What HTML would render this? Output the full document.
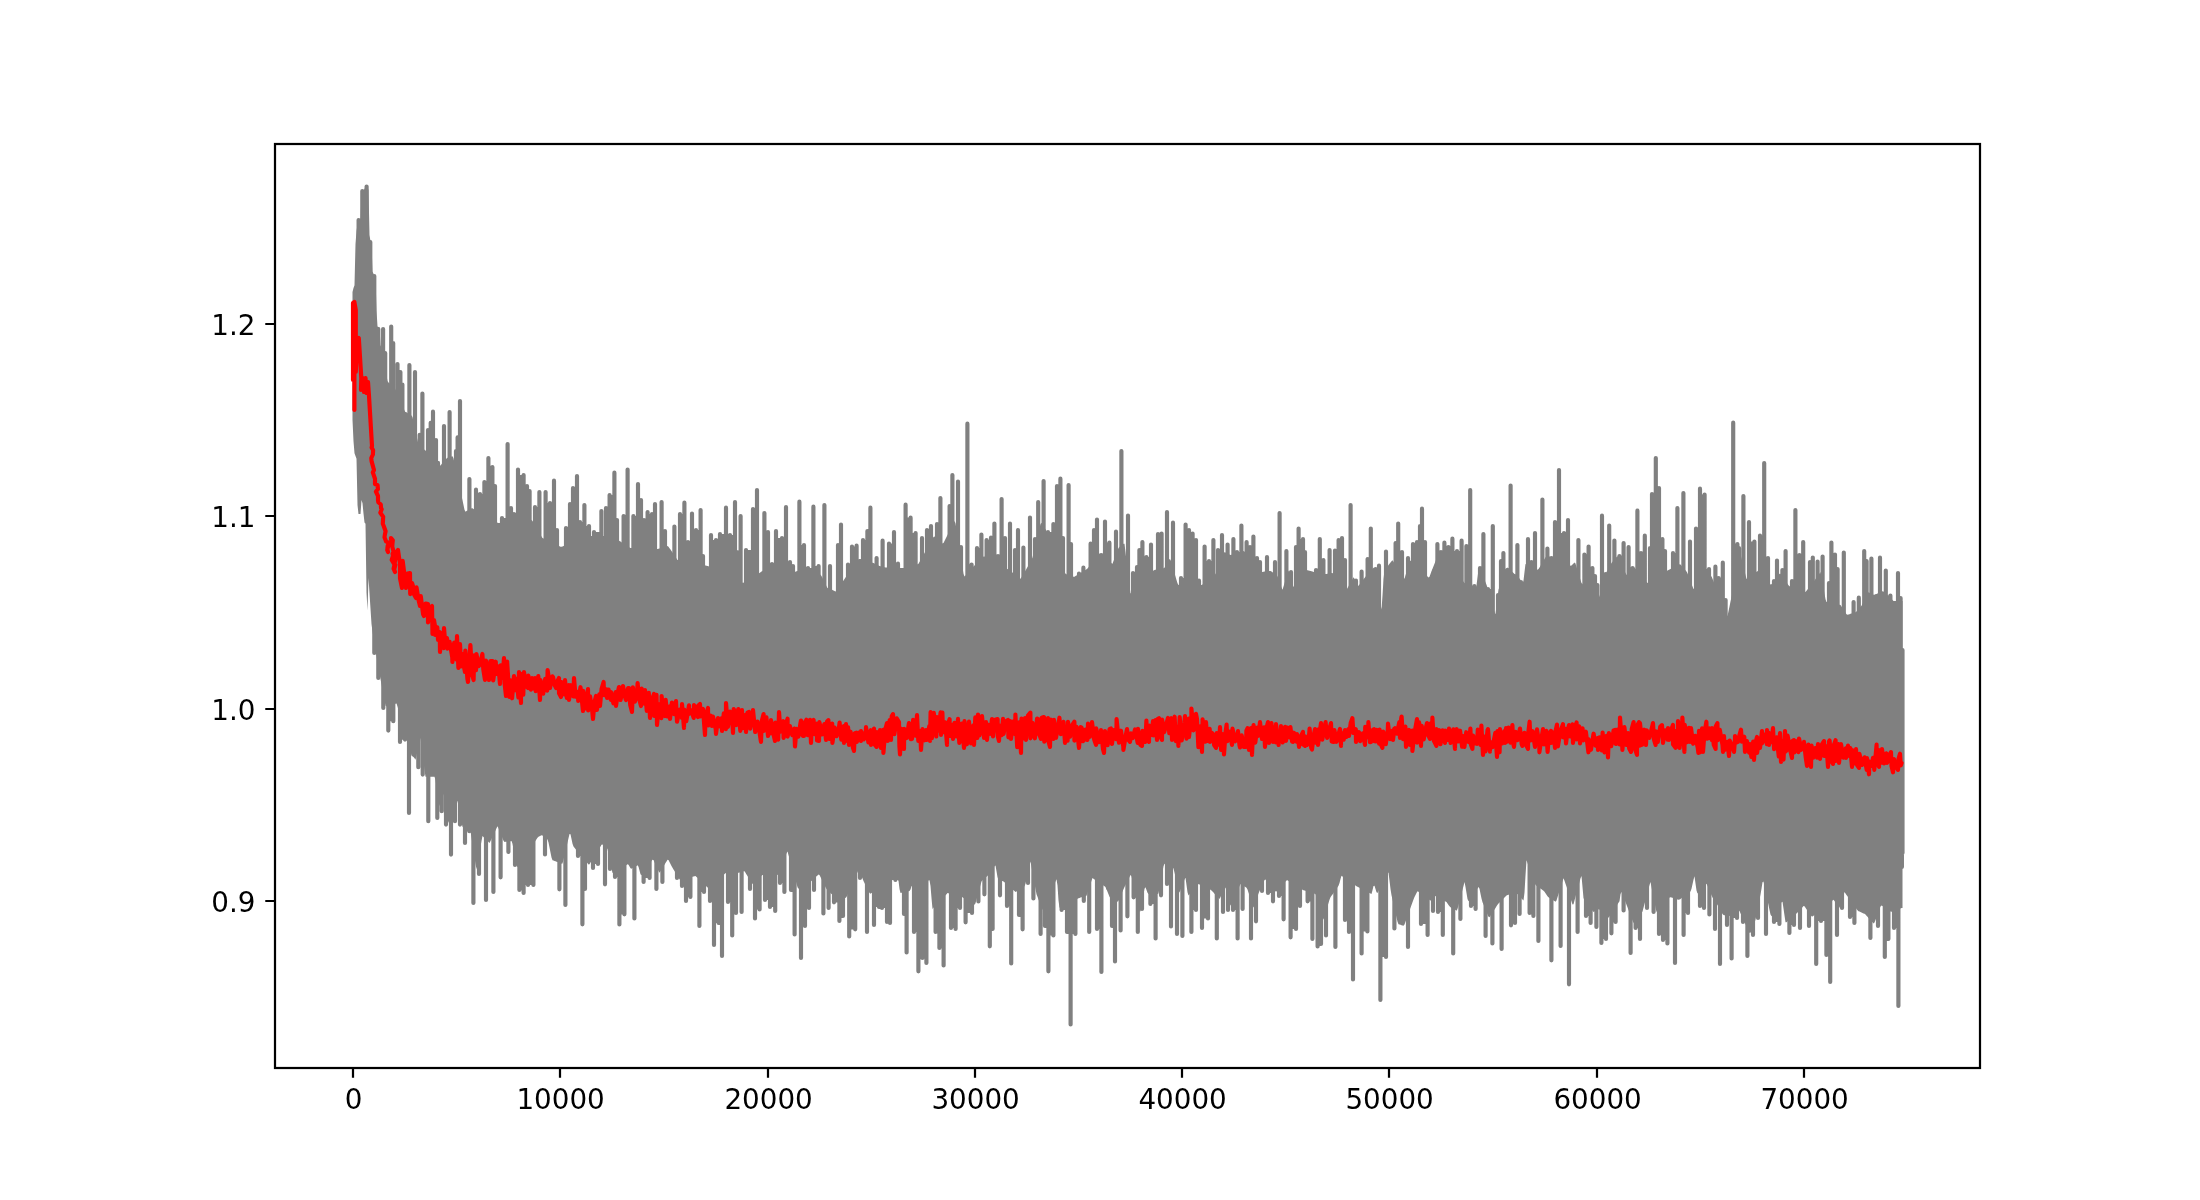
<!DOCTYPE html>
<html><head><meta charset="utf-8"><title>plot</title>
<style>html,body{margin:0;padding:0;background:#fff;overflow:hidden}body{position:relative}body{width:2200px;height:1200px}</style>
</head><body>
<svg width="2200" height="1200" viewBox="0 0 2200 1200" style="display:block">
<rect width="2200" height="1200" fill="#fff"/>
<clipPath id="c"><rect x="275" y="144" width="1705" height="924"/></clipPath>
<g clip-path="url(#c)"><path d="M352.5 292 353.5 288 354.5 285.3 355.5 244 356.5 230.9 357.5 224.4 358.5 218.1 359.5 219.6 360.5 221 361.5 191 362.5 190.6 363.5 190.2 364.5 188.9 365.5 186.8 366.5 184.7 367.5 187.1 368.5 190 369.5 235 370.5 241.2 371.5 243.8 372.5 271.5 373.5 273.8 374.5 275.9 375.5 277.6 376.5 310.3 377.5 326.4 378.5 326.9 379.5 327.4 380.5 345 381.5 348.3 382.5 353.7 383.5 353 384.5 353 385.5 370 386.5 375.5 387.5 380.9 388.5 382.6 389.5 383.4 390.5 384.2 391.5 343 392.5 343 393.5 386.6 394.5 387.4 395.5 389.6 396.5 391.9 397.5 372 398.5 372 399.5 372 400.5 384.5 401.5 384.5 402.5 405.8 403.5 408.1 404.5 410.4 405.5 412.2 406.5 412.7 407.5 413.3 408.5 413.9 409.5 414.4 410.5 415 411.5 415.5 412.5 416.9 413.5 421.5 414.5 426.2 415.5 430.8 416.5 435.4 417.5 440 418.5 444.6 419.5 446.5 420.5 434.7 421.5 434.7 422.5 448.4 423.5 449 424.5 449.7 425.5 450.5 426.5 451.6 427.5 452.7 428.5 430 429.5 430 430.5 430 431.5 422.7 432.5 422.7 433.5 440 434.5 440 435.5 440 436.5 462.3 437.5 462.7 438.5 464.4 439.5 465.5 440.5 465.4 441.5 464.3 442.5 463.1 443.5 462 444.5 460.9 445.5 459.7 446.5 458.6 447.5 457.8 448.5 457.5 449.5 457.2 450.5 456.8 451.5 456.5 452.5 456.2 453.5 458.3 454.5 463 455.5 467.7 456.5 451 457.5 451 458.5 437.3 459.5 437.3 460.5 491 461.5 495.7 462.5 500.3 463.5 505 464.5 509.7 465.5 511.7 466.5 511.1 467.5 510.6 468.5 510 469.5 509.4 470.5 508.9 471.5 508.3 472.5 508.3 473.5 508.9 474.5 509.4 475.5 510 476.5 494 477.5 494 478.5 494 479.5 494 480.5 494 481.5 494 482.5 494 483.5 494 484.5 482 485.5 482 486.5 482 487.5 482 488.5 467 489.5 467 490.5 467 491.5 467 492.5 486 493.5 486 494.5 486 495.5 521.6 496.5 522.1 497.5 522.7 498.5 523 499.5 522.9 500.5 522.8 501.5 522.7 502.5 518 503.5 518 504.5 518 505.5 518 506.5 518 507.5 518 508.5 508 509.5 508 510.5 508 511.5 514 512.5 514 513.5 514 514.5 514 515.5 514 516.5 514 517.5 514 518.5 475 519.5 475 520.5 475 521.5 475 522.5 475 523.5 475 524.5 486 525.5 486 526.5 486 527.5 491 528.5 491 529.5 491 530.5 520.1 531.5 520 532.5 520.9 533.5 522.6 534.5 524.3 535.5 507 536.5 507 537.5 507 538.5 507 539.5 533 540.5 534.7 541.5 536.4 542.5 538 543.5 538.5 544.5 539 545.5 539.5 546.5 503 547.5 503 548.5 503 549.5 503 550.5 503 551.5 503 552.5 503 553.5 503 554.5 530 555.5 530 556.5 530 557.5 545.3 558.5 545.8 559.5 546.3 560.5 546.8 561.5 546.8 562.5 546.5 563.5 546.1 564.5 545.7 565.5 545.4 566.5 528 567.5 528 568.5 528 569.5 528 570.5 504 571.5 504 572.5 504 573.5 488 574.5 488 575.5 488 576.5 488 577.5 522 578.5 522 579.5 522 580.5 522 581.5 522 582.5 522 583.5 522 584.5 526 585.5 526 586.5 526 587.5 526 588.5 526 589.5 536.5 590.5 536.2 591.5 536 592.5 536 593.5 536 594.5 532 595.5 532 596.5 532 597.5 532 598.5 532 599.5 532 600.5 532 601.5 536 602.5 536 603.5 536 604.5 536 605.5 536.3 606.5 508 607.5 508 608.5 508 609.5 508 610.5 495 611.5 495 612.5 495 613.5 495 614.5 520 615.5 520 616.5 520 617.5 539.9 618.5 540.3 619.5 541 620.5 541.6 621.5 542.3 622.5 542.9 623.5 543.5 624.5 516 625.5 516 626.5 516 627.5 516 628.5 546.8 629.5 547.4 630.5 548 631.5 548 632.5 548.1 633.5 516 634.5 516 635.5 516 636.5 516 637.5 516 638.5 500 639.5 500 640.5 500 641.5 520 642.5 520 643.5 520 644.5 520 645.5 520 646.5 520 647.5 520 648.5 514 649.5 514 650.5 514 651.5 514 652.5 514 653.5 514 654.5 514 655.5 548.9 656.5 549 657.5 549 658.5 548.7 659.5 548.5 660.5 548.2 661.5 547.9 662.5 531 663.5 531 664.5 531 665.5 546.7 666.5 546.4 667.5 546.1 668.5 546.7 669.5 548.2 670.5 549.6 671.5 551.1 672.5 552.6 673.5 554 674.5 555.5 675.5 556.9 676.5 558.4 677.5 559.9 678.5 560.2 679.5 560.4 680.5 514 681.5 514 682.5 514 683.5 514 684.5 542 685.5 542 686.5 542 687.5 542 688.5 542 689.5 542 690.5 542 691.5 542 692.5 530 693.5 530 694.5 530 695.5 530 696.5 530 697.5 530 698.5 530 699.5 530 700.5 530 701.5 556 702.5 556 703.5 565.1 704.5 565.3 705.5 565.5 706.5 565.7 707.5 565.9 708.5 566.2 709.5 566.7 710.5 567.2 711.5 540 712.5 540 713.5 540 714.5 540 715.5 540 716.5 540 717.5 540 718.5 540 719.5 540 720.5 534 721.5 534 722.5 534 723.5 534 724.5 534 725.5 534 726.5 535 727.5 535 728.5 535 729.5 535 730.5 535 731.5 535 732.5 535 733.5 535 734.5 535 735.5 552 736.5 552 737.5 552 738.5 552 739.5 552 740.5 552 741.5 582.3 742.5 582.8 743.5 582.7 744.5 582.1 745.5 581.5 746.5 550 747.5 550 748.5 550 749.5 550 750.5 550 751.5 550 752.5 550 753.5 509 754.5 509 755.5 509 756.5 509 757.5 574.1 758.5 573.5 759.5 572.9 760.5 572.3 761.5 571.6 762.5 570.9 763.5 570.1 764.5 532 765.5 532 766.5 532 767.5 532 768.5 564 769.5 564 770.5 564 771.5 564 772.5 563.4 773.5 563.2 774.5 563.6 775.5 564 776.5 538 777.5 538 778.5 538 779.5 538 780.5 538 781.5 538 782.5 538 783.5 538 784.5 538 785.5 538 786.5 562 787.5 562 788.5 562 789.5 562 790.5 566 791.5 566 792.5 566 793.5 571.4 794.5 571.8 795.5 571.8 796.5 571.3 797.5 570.9 798.5 570.4 799.5 545 800.5 545 801.5 545 802.5 545 803.5 545 804.5 567.7 805.5 567.2 806.5 567.3 807.5 567.8 808.5 568 809.5 568 810.5 568 811.5 568 812.5 568 813.5 566 814.5 566 815.5 566 816.5 566 817.5 566 818.5 566 819.5 574.2 820.5 574.7 821.5 576 822.5 578 823.5 580.1 824.5 582.1 825.5 584.1 826.5 586.2 827.5 588 828.5 588.4 829.5 588.8 830.5 589.2 831.5 589.6 832.5 590 833.5 590.5 834.5 590.9 835.5 591.4 836.5 590.9 837.5 589.4 838.5 545 839.5 545 840.5 545 841.5 583.4 842.5 581.9 843.5 580.4 844.5 578.9 845.5 577.5 846.5 576.2 847.5 574.9 848.5 564.4 849.5 564.4 850.5 564.4 851.5 564.4 852.5 546.4 853.5 546.4 854.5 546.4 855.5 546.4 856.5 546.4 857.5 561 858.5 560.2 859.5 559 860.5 559.3 861.5 559.6 862.5 559.9 863.5 540 864.5 540 865.5 540 866.5 540 867.5 531 868.5 531 869.5 531 870.5 562.1 871.5 562.4 872.5 562.7 873.5 563 874.5 563.5 875.5 564 876.5 564.5 877.5 565 878.5 565.5 879.5 566 880.5 566.2 881.5 566.5 882.5 566.8 883.5 567 884.5 567.3 885.5 567.6 886.5 567.6 887.5 567.6 888.5 567.7 889.5 543.6 890.5 543.6 891.5 543.6 892.5 543.6 893.5 543.6 894.5 563.6 895.5 563.6 896.5 563.6 897.5 563.6 898.5 567.9 899.5 568 900.5 568 901.5 568 902.5 568 903.5 568 904.5 567.8 905.5 567.5 906.5 517.6 907.5 517.6 908.5 517.6 909.5 517.6 910.5 517.6 911.5 533 912.5 533 913.5 533 914.5 533 915.5 533 916.5 564.5 917.5 564.2 918.5 563.8 919.5 562 920.5 560.2 921.5 558.5 922.5 556.7 923.5 554.9 924.5 553.1 925.5 551.3 926.5 549.5 927.5 530 928.5 530 929.5 530 930.5 530 931.5 540.5 932.5 538.7 933.5 536.9 934.5 536.4 935.5 537.3 936.5 538.2 937.5 524 938.5 524 939.5 524 940.5 541.8 941.5 542.7 942.5 543.6 943.5 543 944.5 541 945.5 539 946.5 537 947.5 535 948.5 533 949.5 531 950.5 506 951.5 506 952.5 525 953.5 523 954.5 521 955.5 523.2 956.5 529.5 957.5 535.8 958.5 542.2 959.5 547 960.5 547 961.5 561.2 962.5 567.5 963.5 573.8 964.5 576.5 965.5 575.4 966.5 574.2 967.5 564.4 968.5 564.4 969.5 564.4 970.5 564.4 971.5 564.4 972.5 567.6 973.5 566.5 974.5 565.5 975.5 564.5 976.5 563.5 977.5 548 978.5 548 979.5 548 980.5 548 981.5 558.5 982.5 557.5 983.5 556.5 984.5 556.4 985.5 557.1 986.5 557.8 987.5 540 988.5 540 989.5 540 990.5 540 991.5 537.6 992.5 537.6 993.5 537.6 994.5 556 995.5 556 996.5 556 997.5 556 998.5 566.4 999.5 567 1000.5 567.3 1001.5 567.5 1002.5 538 1003.5 538 1004.5 538 1005.5 568.5 1006.5 568.8 1007.5 569.1 1008.5 569.8 1009.5 570.5 1010.5 571.2 1011.5 571.9 1012.5 572.6 1013.5 573.4 1014.5 574.2 1015.5 550 1016.5 550 1017.5 550 1018.5 577.5 1019.5 578.3 1020.5 578.8 1021.5 577.2 1022.5 575.5 1023.5 573.8 1024.5 572.2 1025.5 570.5 1026.5 568.8 1027.5 567.1 1028.5 565.2 1029.5 563.4 1030.5 561.5 1031.5 559.7 1032.5 557.6 1033.5 553.4 1034.5 549.2 1035.5 539 1036.5 539 1037.5 536.7 1038.5 532.5 1039.5 528.3 1040.5 524.1 1041.5 522.8 1042.5 524.4 1043.5 526 1044.5 527.6 1045.5 529.2 1046.5 531.1 1047.5 533.4 1048.5 532 1049.5 532 1050.5 532 1051.5 532 1052.5 532 1053.5 524 1054.5 524 1055.5 524 1056.5 524 1057.5 486 1058.5 486 1059.5 486 1060.5 538 1061.5 538 1062.5 538 1063.5 569.3 1064.5 571.5 1065.5 573.8 1066.5 574.3 1067.5 574.7 1068.5 575 1069.5 544 1070.5 544 1071.5 576.1 1072.5 576.5 1073.5 576.8 1074.5 576.7 1075.5 576.1 1076.5 575.5 1077.5 574.8 1078.5 574.2 1079.5 573.6 1080.5 573 1081.5 572.4 1082.5 571.8 1083.5 571.2 1084.5 570.5 1085.5 569.9 1086.5 569.3 1087.5 568.4 1088.5 567.2 1089.5 565.9 1090.5 564.7 1091.5 543.6 1092.5 543.6 1093.5 543.6 1094.5 530 1095.5 530 1096.5 530 1097.5 556.1 1098.5 554.8 1099.5 553.6 1100.5 553.4 1101.5 554.3 1102.5 555 1103.5 555 1104.5 555 1105.5 542.6 1106.5 542.6 1107.5 542.6 1108.5 542.6 1109.5 561.4 1110.5 562.3 1111.5 563.2 1112.5 563.7 1113.5 561.1 1114.5 558.4 1115.5 555.7 1116.5 553.1 1117.5 550.4 1118.5 547.9 1119.5 547.1 1120.5 546.3 1121.5 545.4 1122.5 544.6 1123.5 543.8 1124.5 543.8 1125.5 552.3 1126.5 560.7 1127.5 569.1 1128.5 577.6 1129.5 586 1130.5 593.5 1131.5 592.5 1132.5 591.5 1133.5 573 1134.5 573 1135.5 573 1136.5 573 1137.5 567 1138.5 567 1139.5 550 1140.5 550 1141.5 550 1142.5 557 1143.5 557 1144.5 557 1145.5 557 1146.5 557 1147.5 557 1148.5 557 1149.5 557 1150.5 557 1151.5 572.5 1152.5 571.5 1153.5 570.5 1154.5 569.9 1155.5 569.7 1156.5 569.5 1157.5 569.3 1158.5 534 1159.5 534 1160.5 534 1161.5 534 1162.5 568.4 1163.5 568.2 1164.5 567.8 1165.5 566 1166.5 564.3 1167.5 562.5 1168.5 560.7 1169.5 558.9 1170.5 559.7 1171.5 563.1 1172.5 566.4 1173.5 569.8 1174.5 573.2 1175.5 576.6 1176.5 579.9 1177.5 583.3 1178.5 585 1179.5 585 1180.5 585 1181.5 578 1182.5 578 1183.5 578 1184.5 578 1185.5 578 1186.5 530 1187.5 530 1188.5 530 1189.5 533.4 1190.5 533.4 1191.5 533.4 1192.5 533.4 1193.5 540 1194.5 540 1195.5 540 1196.5 580.6 1197.5 580.6 1198.5 580.6 1199.5 585 1200.5 585 1201.5 585 1202.5 584.6 1203.5 583.8 1204.5 583 1205.5 561 1206.5 561 1207.5 561 1208.5 561 1209.5 561 1210.5 561 1211.5 561 1212.5 561 1213.5 575.7 1214.5 574.9 1215.5 574.1 1216.5 571.7 1217.5 569.2 1218.5 550 1219.5 550 1220.5 550 1221.5 550 1222.5 556.8 1223.5 554.3 1224.5 552 1225.5 552.5 1226.5 553 1227.5 553.5 1228.5 554 1229.5 554.5 1230.5 555 1231.5 554.7 1232.5 554.4 1233.5 552 1234.5 552 1235.5 552 1236.5 552 1237.5 552 1238.5 552 1239.5 552 1240.5 552 1241.5 551.7 1242.5 551.4 1243.5 551.1 1244.5 551.6 1245.5 552.9 1246.5 554.1 1247.5 547 1248.5 547 1249.5 547 1250.5 547 1251.5 547 1252.5 547 1253.5 558 1254.5 558 1255.5 558 1256.5 558 1257.5 562 1258.5 562 1259.5 562 1260.5 571.4 1261.5 572 1262.5 571.9 1263.5 571.8 1264.5 571.6 1265.5 571.5 1266.5 571.5 1267.5 571.4 1268.5 571.2 1269.5 571.1 1270.5 571 1271.5 571.4 1272.5 572.2 1273.5 573 1274.5 573.7 1275.5 574.5 1276.5 575.3 1277.5 576.3 1278.5 579.1 1279.5 581.9 1280.5 584.7 1281.5 587.5 1282.5 589.7 1283.5 586.5 1284.5 583.2 1285.5 580 1286.5 576.8 1287.5 573.5 1288.5 570.3 1289.5 573.2 1290.5 576.7 1291.5 580.3 1292.5 583.8 1293.5 586.9 1294.5 585.6 1295.5 584.3 1296.5 547 1297.5 547 1298.5 547 1299.5 539 1300.5 539 1301.5 539 1302.5 539 1303.5 552 1304.5 552 1305.5 571.2 1306.5 570 1307.5 570.3 1308.5 570.6 1309.5 570.8 1310.5 571.1 1311.5 571.3 1312.5 571.6 1313.5 571.9 1314.5 572.1 1315.5 572.2 1316.5 570 1317.5 570 1318.5 570 1319.5 570 1320.5 560 1321.5 560 1322.5 560 1323.5 573.5 1324.5 573.7 1325.5 573.9 1326.5 574 1327.5 573.8 1328.5 573.6 1329.5 573.5 1330.5 573.3 1331.5 573.1 1332.5 573.1 1333.5 574.3 1334.5 575.5 1335.5 550.4 1336.5 550.4 1337.5 550.4 1338.5 550.4 1339.5 540 1340.5 540 1341.5 540 1342.5 560 1343.5 560 1344.5 560 1345.5 588.9 1346.5 589.8 1347.5 588 1348.5 586.2 1349.5 584.4 1350.5 582.6 1351.5 580.8 1352.5 579 1353.5 577.2 1354.5 578.7 1355.5 580.6 1356.5 582.4 1357.5 584.3 1358.5 585.9 1359.5 584.5 1360.5 583.2 1361.5 581.9 1362.5 580.5 1363.5 579.2 1364.5 577.9 1365.5 576.7 1366.5 575.6 1367.5 574.4 1368.5 559 1369.5 559 1370.5 559 1371.5 569.9 1372.5 568.7 1373.5 567.6 1374.5 569.8 1375.5 575.5 1376.5 569 1377.5 569 1378.5 569 1379.5 598.1 1380.5 603.8 1381.5 609.4 1382.5 595.4 1383.5 579.1 1384.5 570.3 1385.5 569 1386.5 567.7 1387.5 566.4 1388.5 565.1 1389.5 563.8 1390.5 562.5 1391.5 561.2 1392.5 560.2 1393.5 561.7 1394.5 563.3 1395.5 564.9 1396.5 543 1397.5 543 1398.5 552 1399.5 552 1400.5 552 1401.5 552 1402.5 576 1403.5 577.6 1404.5 578.7 1405.5 575.3 1406.5 571.9 1407.5 568.5 1408.5 565.1 1409.5 561.7 1410.5 560.5 1411.5 561.4 1412.5 562.4 1413.5 544 1414.5 544 1415.5 544 1416.5 544 1417.5 542 1418.5 542 1419.5 542 1420.5 526 1421.5 526 1422.5 542 1423.5 542 1424.5 542 1425.5 574.7 1426.5 575.6 1427.5 576.6 1428.5 577.5 1429.5 576.7 1430.5 574 1431.5 571.3 1432.5 568.8 1433.5 566.2 1434.5 563.8 1435.5 561.2 1436.5 558.8 1437.5 556.2 1438.5 553.8 1439.5 551.2 1440.5 550.7 1441.5 552 1442.5 552 1443.5 552 1444.5 547 1445.5 547 1446.5 547 1447.5 547 1448.5 547 1449.5 547 1450.5 547 1451.5 547 1452.5 551 1453.5 551 1454.5 551 1455.5 551 1456.5 551 1457.5 551 1458.5 551 1459.5 551 1460.5 551 1461.5 551 1462.5 580.4 1463.5 581.8 1464.5 583.1 1465.5 583.6 1466.5 546 1467.5 546 1468.5 546 1469.5 546 1470.5 586 1471.5 586 1472.5 586 1473.5 586 1474.5 588.2 1475.5 588.7 1476.5 585.2 1477.5 577.5 1478.5 569.8 1479.5 567.2 1480.5 568 1481.5 568 1482.5 568 1483.5 577.2 1484.5 579.8 1485.5 582.2 1486.5 584.8 1487.5 587.7 1488.5 589 1489.5 589 1490.5 589 1491.5 589 1492.5 589 1493.5 608.4 1494.5 611.9 1495.5 614.2 1496.5 605.8 1497.5 597.5 1498.5 589.7 1499.5 587.1 1500.5 584.4 1501.5 561 1502.5 561 1503.5 570 1504.5 570 1505.5 570 1506.5 568.3 1507.5 567.5 1508.5 568.4 1509.5 569.3 1510.5 570 1511.5 571.2 1512.5 572.1 1513.5 573 1514.5 573.9 1515.5 574.8 1516.5 575.8 1517.5 576.7 1518.5 577.6 1519.5 578.5 1520.5 580 1521.5 582 1522.5 584 1523.5 580.6 1524.5 571.9 1525.5 564 1526.5 564.5 1527.5 565 1528.5 562 1529.5 562 1530.5 562 1531.5 562 1532.5 562 1533.5 562 1534.5 562 1535.5 568.8 1536.5 569.3 1537.5 569.8 1538.5 569.1 1539.5 567.4 1540.5 565.7 1541.5 564 1542.5 562.3 1543.5 560.6 1544.5 558.9 1545.5 557.2 1546.5 556.9 1547.5 556.7 1548.5 556.5 1549.5 556.4 1550.5 556.2 1551.5 556.1 1552.5 556.3 1553.5 556.8 1554.5 557.3 1555.5 522 1556.5 522 1557.5 522 1558.5 522 1559.5 533 1560.5 533 1561.5 533 1562.5 533 1563.5 533 1564.5 533 1565.5 533 1566.5 533 1567.5 533 1568.5 564.7 1569.5 565.2 1570.5 565.7 1571.5 565.5 1572.5 564.5 1573.5 563.5 1574.5 562.5 1575.5 563.6 1576.5 566.9 1577.5 570.2 1578.5 573.5 1579.5 576.8 1580.5 580 1581.5 583.1 1582.5 583.9 1583.5 584.8 1584.5 554.4 1585.5 554.4 1586.5 554.4 1587.5 554.4 1588.5 554.4 1589.5 568 1590.5 568 1591.5 568 1592.5 576 1593.5 576 1594.5 576 1595.5 585 1596.5 585 1597.5 596.7 1598.5 597.6 1599.5 596.2 1600.5 592.6 1601.5 589.1 1602.5 574 1603.5 574 1604.5 574 1605.5 574 1606.5 572.1 1607.5 570.2 1608.5 568.4 1609.5 566.5 1610.5 564.7 1611.5 562.9 1612.5 561.7 1613.5 560.6 1614.5 559.4 1615.5 558.2 1616.5 557.1 1617.5 556.2 1618.5 558.3 1619.5 556 1620.5 556 1621.5 556 1622.5 556 1623.5 556 1624.5 571 1625.5 573.1 1626.5 574.9 1627.5 573.8 1628.5 572.8 1629.5 568 1630.5 568 1631.5 568 1632.5 568 1633.5 567.5 1634.5 567.6 1635.5 568.8 1636.5 570 1637.5 553 1638.5 553 1639.5 553 1640.5 553 1641.5 553 1642.5 553 1643.5 553 1644.5 553 1645.5 580.7 1646.5 581.9 1647.5 582.9 1648.5 582.3 1649.5 581.7 1650.5 548 1651.5 548 1652.5 494 1653.5 494 1654.5 494 1655.5 494 1656.5 488 1657.5 488 1658.5 488 1659.5 539 1660.5 539 1661.5 539 1662.5 551 1663.5 551 1664.5 551 1665.5 571.8 1666.5 571.2 1667.5 570.6 1668.5 569.9 1669.5 569.4 1670.5 568.9 1671.5 568.4 1672.5 567.9 1673.5 553 1674.5 553 1675.5 553 1676.5 553 1677.5 565.3 1678.5 564.8 1679.5 564.3 1680.5 564.6 1681.5 565.7 1682.5 566.9 1683.5 568 1684.5 569.1 1685.5 570.3 1686.5 571.4 1687.5 573.3 1688.5 576 1689.5 578.6 1690.5 581.3 1691.5 584 1692.5 586.6 1693.5 588.9 1694.5 588.2 1695.5 587.5 1696.5 528.4 1697.5 528.4 1698.5 528.4 1699.5 528.4 1700.5 494.4 1701.5 494.4 1702.5 494.4 1703.5 494.4 1704.5 494.4 1705.5 569 1706.5 569 1707.5 569 1708.5 569 1709.5 577.4 1710.5 576.7 1711.5 576.3 1712.5 578.8 1713.5 581.3 1714.5 583.8 1715.5 578 1716.5 578 1717.5 578 1718.5 578 1719.5 578 1720.5 578 1721.5 578 1722.5 578 1723.5 600 1724.5 600 1725.5 600 1726.5 614.1 1727.5 615.9 1728.5 611.2 1729.5 606.4 1730.5 601.6 1731.5 596.9 1732.5 592.2 1733.5 544 1734.5 544 1735.5 544 1736.5 544 1737.5 548 1738.5 548 1739.5 559.2 1740.5 554.5 1741.5 557.9 1742.5 562.2 1743.5 566.5 1744.5 570.8 1745.5 575.1 1746.5 578.9 1747.5 578.2 1748.5 577.5 1749.5 541.4 1750.5 541.4 1751.5 541.4 1752.5 541.4 1753.5 541.4 1754.5 573.1 1755.5 572.4 1756.5 571.7 1757.5 571.1 1758.5 572.1 1759.5 573.2 1760.5 535.6 1761.5 535.6 1762.5 535.6 1763.5 535.6 1764.5 558 1765.5 558 1766.5 558 1767.5 558 1768.5 582.4 1769.5 583.5 1770.5 584.5 1771.5 584.3 1772.5 583 1773.5 581.7 1774.5 580.3 1775.5 579 1776.5 577.7 1777.5 576.3 1778.5 575 1779.5 573.7 1780.5 573.7 1781.5 575.2 1782.5 570 1783.5 570 1784.5 570 1785.5 570 1786.5 582.4 1787.5 583.8 1788.5 585.3 1789.5 586.2 1790.5 586.5 1791.5 586.9 1792.5 581 1793.5 581 1794.5 581 1795.5 555 1796.5 555 1797.5 555 1798.5 555 1799.5 555 1800.5 555 1801.5 555 1802.5 555 1803.5 591.2 1804.5 591.6 1805.5 592 1806.5 590.8 1807.5 589.5 1808.5 588.2 1809.5 586.9 1810.5 562 1811.5 562 1812.5 562 1813.5 581.7 1814.5 580.4 1815.5 579.1 1816.5 577.7 1817.5 576.3 1818.5 574.9 1819.5 573.5 1820.5 572.1 1821.5 577 1822.5 582.6 1823.5 588.1 1824.5 593.7 1825.5 599.2 1826.5 602.1 1827.5 602.3 1828.5 602.5 1829.5 583 1830.5 583 1831.5 554.4 1832.5 554.4 1833.5 554.4 1834.5 554.4 1835.5 569 1836.5 569 1837.5 569 1838.5 604.6 1839.5 604.8 1840.5 605 1841.5 606.4 1842.5 608 1843.5 609.5 1844.5 611.1 1845.5 612.7 1846.5 614.2 1847.5 614.8 1848.5 614.5 1849.5 614.2 1850.5 613.8 1851.5 613.5 1852.5 613.2 1853.5 612.8 1854.5 612.5 1855.5 612.2 1856.5 611.4 1857.5 610.3 1858.5 609.2 1859.5 608.1 1860.5 607 1861.5 605.8 1862.5 603.7 1863.5 601.5 1864.5 561 1865.5 561 1866.5 561 1867.5 593.1 1868.5 592.2 1869.5 592.8 1870.5 593.2 1871.5 593.8 1872.5 594.2 1873.5 594.8 1874.5 594.8 1875.5 594.3 1876.5 593.9 1877.5 593.4 1878.5 593 1879.5 592.6 1880.5 592.1 1881.5 591.7 1882.5 591.2 1883.5 591.5 1884.5 592.4 1885.5 593.4 1886.5 594.3 1887.5 595.2 1888.5 595.4 1889.5 595.4 1890.5 598.1 1891.5 599 1892.5 600 1893.5 600.9 1894.5 601 1895.5 601 1896.5 601 1897.5 601 1898.5 598 1899.5 598 1900.5 598 1901.5 601 1902.5 601 1902.5 908 1901.5 908 1900.5 908.4 1899.5 908.8 1898.5 909.2 1897.5 928 1896.5 928 1895.5 928 1894.5 928 1893.5 911.1 1892.5 911.4 1891.5 911.8 1890.5 911.6 1889.5 911 1888.5 910.2 1887.5 939 1886.5 939 1885.5 939 1884.5 907.5 1883.5 906.8 1882.5 906 1881.5 905.4 1880.5 906.4 1879.5 909.1 1878.5 911.8 1877.5 914.5 1876.5 917.2 1875.5 919.9 1874.5 922.6 1873.5 923.4 1872.5 922.3 1871.5 921.2 1870.5 920.1 1869.5 919 1868.5 917.9 1867.5 916.8 1866.5 915.7 1865.5 914.6 1864.5 913.8 1863.5 913.4 1862.5 912.9 1861.5 912.5 1860.5 912.1 1859.5 911.6 1858.5 911.2 1857.5 910.3 1856.5 908.9 1855.5 907.5 1854.5 906.1 1853.5 917 1852.5 917 1851.5 917 1850.5 917 1849.5 899.1 1848.5 897.7 1847.5 896.3 1846.5 894.9 1845.5 893.5 1844.5 892.1 1843.5 894.9 1842.5 898.1 1841.5 901.3 1840.5 904.5 1839.5 907.7 1838.5 906.7 1837.5 905.2 1836.5 903.8 1835.5 902.4 1834.5 900.9 1833.5 899.7 1832.5 900.5 1831.5 901.3 1830.5 902.1 1829.5 955 1828.5 955 1827.5 955 1826.5 955 1825.5 921 1824.5 921 1823.5 921 1822.5 921 1821.5 921 1820.5 921 1819.5 921 1818.5 921 1817.5 921 1816.5 921 1815.5 914.2 1814.5 915 1813.5 915.8 1812.5 916.6 1811.5 916.3 1810.5 914.9 1809.5 913.4 1808.5 912 1807.5 910.6 1806.5 909.2 1805.5 907.7 1804.5 906.3 1803.5 906.1 1802.5 907.2 1801.5 908.2 1800.5 909.3 1799.5 910.4 1798.5 911.4 1797.5 912.5 1796.5 913.4 1795.5 914.3 1794.5 915.2 1793.5 925 1792.5 925 1791.5 925 1790.5 925 1789.5 925 1788.5 920.5 1787.5 921.3 1786.5 922.2 1785.5 922.3 1784.5 915.4 1783.5 908.6 1782.5 901.7 1781.5 902.3 1780.5 903.7 1779.5 905.1 1778.5 922 1777.5 922 1776.5 922 1775.5 922 1774.5 922 1773.5 913.5 1772.5 914.9 1771.5 916.3 1770.5 914.6 1769.5 909.9 1768.5 905.1 1767.5 900.4 1766.5 895.6 1765.5 890.9 1764.5 886.1 1763.5 881.4 1762.5 882.2 1761.5 888.8 1760.5 894.5 1759.5 899.5 1758.5 904.5 1757.5 909.5 1756.5 914.5 1755.5 919.5 1754.5 923.2 1753.5 925.6 1752.5 928 1751.5 930.4 1750.5 932.8 1749.5 932.9 1748.5 930.7 1747.5 928.5 1746.5 926.4 1745.5 924.2 1744.5 922 1743.5 922 1742.5 917.6 1741.5 915.5 1740.5 913.3 1739.5 911.1 1738.5 910.3 1737.5 911 1736.5 918 1735.5 918 1734.5 918 1733.5 918 1732.5 918 1731.5 914.8 1730.5 915.4 1729.5 916 1728.5 915.8 1727.5 915.7 1726.5 915.5 1725.5 915.4 1724.5 915.2 1723.5 915.1 1722.5 914.1 1721.5 912.2 1720.5 910.4 1719.5 908.5 1718.5 906.7 1717.5 904.9 1716.5 903.4 1715.5 901.9 1714.5 900.5 1713.5 899 1712.5 897.5 1711.5 895.3 1710.5 892.9 1709.5 890.5 1708.5 888.1 1707.5 885.7 1706.5 883.7 1705.5 884.8 1704.5 885.9 1703.5 906 1702.5 906 1701.5 906 1700.5 906 1699.5 891.3 1698.5 892.4 1697.5 893.5 1696.5 890.5 1695.5 883.4 1694.5 876.3 1693.5 879.7 1692.5 884.2 1691.5 888.7 1690.5 891.4 1689.5 892.1 1688.5 892.9 1687.5 913 1686.5 913 1685.5 913 1684.5 913 1683.5 896.6 1682.5 897.4 1681.5 898.1 1680.5 898.9 1679.5 899.6 1678.5 899.8 1677.5 899.5 1676.5 899.2 1675.5 898.8 1674.5 898.5 1673.5 898.2 1672.5 897.8 1671.5 897.5 1670.5 897.2 1669.5 897.6 1668.5 898.7 1667.5 899.8 1666.5 940 1665.5 940 1664.5 940 1663.5 940 1662.5 934 1661.5 934 1660.5 934 1659.5 934 1658.5 909.7 1657.5 910.8 1656.5 911.9 1655.5 907.4 1654.5 902.4 1653.5 897.3 1652.5 892.2 1651.5 887.2 1650.5 882.1 1649.5 885 1648.5 888.8 1647.5 892.6 1646.5 896.4 1645.5 900.2 1644.5 904 1643.5 907.8 1642.5 911.6 1641.5 913.1 1640.5 914.3 1639.5 928 1638.5 928 1637.5 928 1636.5 928 1635.5 920.4 1634.5 921.7 1633.5 922.9 1632.5 920.6 1631.5 918 1630.5 915.3 1629.5 912.6 1628.5 910 1627.5 907.3 1626.5 904.7 1625.5 902.1 1624.5 899.5 1623.5 896.9 1622.5 894.3 1621.5 891.7 1620.5 894.2 1619.5 901.2 1618.5 902.7 1617.5 904.2 1616.5 905.7 1615.5 922 1614.5 922 1613.5 922 1612.5 922 1611.5 922 1610.5 914.8 1609.5 916.3 1608.5 917.8 1607.5 917.1 1606.5 916.2 1605.5 939 1604.5 939 1603.5 939 1602.5 939 1601.5 939 1600.5 910.4 1599.5 909.5 1598.5 909.3 1597.5 909.8 1596.5 910.3 1595.5 910.9 1594.5 911.4 1593.5 911.9 1592.5 910.8 1591.5 909.5 1590.5 916 1589.5 916 1588.5 916 1587.5 916 1586.5 916 1585.5 901.5 1584.5 900.2 1583.5 897.9 1582.5 887 1581.5 876.1 1580.5 878.3 1579.5 882 1578.5 885.7 1577.5 889.4 1576.5 893.1 1575.5 896.8 1574.5 900.5 1573.5 904.2 1572.5 904.5 1571.5 901.5 1570.5 898.6 1569.5 895.6 1568.5 892.6 1567.5 889.6 1566.5 886.6 1565.5 883.7 1564.5 880.7 1563.5 878.3 1562.5 881.5 1561.5 884.6 1560.5 887.8 1559.5 890.9 1558.5 894.1 1557.5 897.3 1556.5 900.4 1555.5 901.7 1554.5 901.1 1553.5 900.4 1552.5 899.8 1551.5 899.2 1550.5 898.6 1549.5 897.9 1548.5 897.3 1547.5 896.2 1546.5 894.8 1545.5 893.2 1544.5 891.8 1543.5 890.7 1542.5 890 1541.5 889.3 1540.5 888.6 1539.5 887.9 1538.5 887.2 1537.5 886.5 1536.5 885.8 1535.5 885.1 1534.5 882.5 1533.5 879.7 1532.5 913 1531.5 913 1530.5 913 1529.5 868.6 1528.5 865.8 1527.5 863.1 1526.5 860.3 1525.5 875.4 1524.5 892.5 1523.5 900.5 1522.5 899.4 1521.5 898.4 1520.5 897.3 1519.5 896.2 1518.5 895.2 1517.5 894.1 1516.5 893.7 1515.5 893.8 1514.5 923 1513.5 923 1512.5 923 1511.5 923 1510.5 894.5 1509.5 894.6 1508.5 894.8 1507.5 894.9 1506.5 895.5 1505.5 896.5 1504.5 897.5 1503.5 898.5 1502.5 899.5 1501.5 900.5 1500.5 901.5 1499.5 902.5 1498.5 903.5 1497.5 904.8 1496.5 906.3 1495.5 907.9 1494.5 909.4 1493.5 911 1492.5 912.6 1491.5 914.1 1490.5 915.7 1489.5 917.2 1488.5 916.8 1487.5 914.4 1486.5 911.9 1485.5 909.5 1484.5 907.1 1483.5 904.6 1482.5 902.2 1481.5 898.6 1480.5 893.7 1479.5 888.8 1478.5 887.1 1477.5 888.5 1476.5 889.9 1475.5 906 1474.5 906 1473.5 906 1472.5 906 1471.5 906 1470.5 898.5 1469.5 899.9 1468.5 901.3 1467.5 899 1466.5 893 1465.5 887 1464.5 882 1463.5 885.9 1462.5 889.7 1461.5 893.6 1460.5 897.5 1459.5 901.3 1458.5 905.2 1457.5 909.1 1456.5 910.7 1455.5 910.1 1454.5 909.6 1453.5 909 1452.5 908.4 1451.5 907.9 1450.5 907.3 1449.5 906.3 1448.5 904.9 1447.5 903.5 1446.5 902.1 1445.5 901.5 1444.5 901 1443.5 900.4 1442.5 912 1441.5 912 1440.5 912 1439.5 912 1438.5 912 1437.5 897.1 1436.5 896.6 1435.5 896.1 1434.5 897 1433.5 898.2 1432.5 899.3 1431.5 900.4 1430.5 900.6 1429.5 899.9 1428.5 899.1 1427.5 924 1426.5 924 1425.5 924 1424.5 924 1423.5 924 1422.5 924 1421.5 924 1420.5 893.2 1419.5 892.4 1418.5 891.7 1417.5 891.2 1416.5 893.1 1415.5 895.1 1414.5 897 1413.5 899.4 1412.5 902.2 1411.5 905 1410.5 907.8 1409.5 910.6 1408.5 913.4 1407.5 916.2 1406.5 919 1405.5 921.8 1404.5 924.6 1403.5 925.8 1402.5 925.5 1401.5 925.2 1400.5 924.8 1399.5 924.5 1398.5 924.2 1397.5 921.8 1396.5 917.4 1395.5 912.9 1394.5 908.5 1393.5 904.1 1392.5 899.6 1391.5 895.2 1390.5 888.9 1389.5 880.7 1388.5 872.4 1387.5 873.4 1386.5 875.3 1385.5 957 1384.5 957 1383.5 957 1382.5 957 1381.5 957 1380.5 957 1379.5 889.1 1378.5 891.1 1377.5 893 1376.5 892.3 1375.5 889 1374.5 885.7 1373.5 886.1 1372.5 890.2 1371.5 893.9 1370.5 893.4 1369.5 892.9 1368.5 892.4 1367.5 891.9 1366.5 931.6 1365.5 931.6 1364.5 931.6 1363.5 931.6 1362.5 931.6 1361.5 888.8 1360.5 888.3 1359.5 887.8 1358.5 887.3 1357.5 886.8 1356.5 886.3 1355.5 885.6 1354.5 884.9 1353.5 884.2 1352.5 932 1351.5 932 1350.5 932 1349.5 932 1348.5 920 1347.5 920 1346.5 920 1345.5 920 1344.5 877.8 1343.5 877.1 1342.5 876.4 1341.5 875.7 1340.5 879.1 1339.5 883 1338.5 885.7 1337.5 887.2 1336.5 888.6 1335.5 890.1 1334.5 891.5 1333.5 892.9 1332.5 894.4 1331.5 895.8 1330.5 897.3 1329.5 899.7 1328.5 903 1327.5 906.3 1326.5 909.7 1325.5 913 1324.5 916.3 1323.5 919.7 1322.5 917 1321.5 913.7 1320.5 944 1319.5 944 1318.5 944 1317.5 900.3 1316.5 897 1315.5 894 1314.5 893.7 1313.5 893.3 1312.5 893 1311.5 901.4 1310.5 901.4 1309.5 901.4 1308.5 901.4 1307.5 891.4 1306.5 891.1 1305.5 890.8 1304.5 890.5 1303.5 890.2 1302.5 889.7 1301.5 889.1 1300.5 888.4 1299.5 906 1298.5 906 1297.5 906 1296.5 906 1295.5 929 1294.5 929 1293.5 929 1292.5 929 1291.5 929 1290.5 882.2 1289.5 881.6 1288.5 880.9 1287.5 880.3 1286.5 880.5 1285.5 881.6 1284.5 882.7 1283.5 896 1282.5 896 1281.5 896 1280.5 896 1279.5 896 1278.5 889.3 1277.5 890.4 1276.5 891.5 1275.5 891.4 1274.5 890.2 1273.5 889 1272.5 893 1271.5 893 1270.5 893 1269.5 893 1268.5 893 1267.5 882 1266.5 880.8 1265.5 879.6 1264.5 880.1 1263.5 882.2 1262.5 884.4 1261.5 886.6 1260.5 888.8 1259.5 890.9 1258.5 893.5 1257.5 896.4 1256.5 899.4 1255.5 902.4 1254.5 905.3 1253.5 907.7 1252.5 904.7 1251.5 901.6 1250.5 898.6 1249.5 895.6 1248.5 892.5 1247.5 889.5 1246.5 887.7 1245.5 887.1 1244.5 886.5 1243.5 885.9 1242.5 885.3 1241.5 884.7 1240.5 884.1 1239.5 886 1238.5 888.2 1237.5 910 1236.5 910 1235.5 910 1234.5 910 1233.5 910 1232.5 901.4 1231.5 903.6 1230.5 905.8 1229.5 902.6 1228.5 898.8 1227.5 895 1226.5 891.2 1225.5 887.4 1224.5 888.9 1223.5 890.9 1222.5 893 1221.5 895.1 1220.5 897.1 1219.5 898.9 1218.5 897.8 1217.5 896.8 1216.5 895.8 1215.5 894.7 1214.5 893.7 1213.5 892.6 1212.5 891.6 1211.5 890.5 1210.5 889.8 1209.5 889.3 1208.5 888.8 1207.5 918.6 1206.5 918.6 1205.5 918.6 1204.5 918.6 1203.5 918.6 1202.5 918.6 1201.5 885.5 1200.5 885 1199.5 884.5 1198.5 884 1197.5 885 1196.5 886.2 1195.5 910 1194.5 910 1193.5 910 1192.5 910 1191.5 910 1190.5 893.1 1189.5 894.3 1188.5 895.4 1187.5 892.3 1186.5 885 1185.5 877.7 1184.5 879.4 1183.5 882.1 1182.5 884.7 1181.5 887.4 1180.5 890.1 1179.5 892.7 1178.5 889.2 1177.5 885.1 1176.5 880.9 1175.5 876.7 1174.5 872.6 1173.5 868.4 1172.5 867.6 1171.5 867.1 1170.5 884 1169.5 884 1168.5 884 1167.5 884 1166.5 864.8 1165.5 864.3 1164.5 863.8 1163.5 866.3 1162.5 871.7 1161.5 877.2 1160.5 882.6 1159.5 888 1158.5 893.5 1157.5 894 1156.5 894 1155.5 904 1154.5 904 1153.5 904 1152.5 904 1151.5 904 1150.5 904 1149.5 894 1148.5 894 1147.5 892.7 1146.5 890 1145.5 887.3 1144.5 888.8 1143.5 894.4 1142.5 900 1141.5 905.6 1140.5 911.2 1139.5 911.8 1138.5 907.3 1137.5 902.9 1136.5 898.4 1135.5 897.4 1134.5 897.4 1133.5 885.1 1132.5 880.7 1131.5 876.2 1130.5 875 1129.5 877 1128.5 879 1127.5 881 1126.5 883 1125.5 885 1124.5 887 1123.5 889.2 1122.5 891.5 1121.5 893.8 1120.5 896.2 1119.5 898.5 1118.5 900.8 1117.5 901.8 1116.5 901.2 1115.5 900.8 1114.5 926 1113.5 926 1112.5 926 1111.5 898.8 1110.5 898.2 1109.5 896.8 1108.5 894.3 1107.5 891.8 1106.5 889.3 1105.5 886.9 1104.5 886.2 1103.5 885.6 1102.5 884.9 1101.5 884.2 1100.5 929 1099.5 929 1098.5 929 1097.5 929 1096.5 880.8 1095.5 880.1 1094.5 879.4 1093.5 878.8 1092.5 878.1 1091.5 880.7 1090.5 883.7 1089.5 886.7 1088.5 889.7 1087.5 892.7 1086.5 895.7 1085.5 896.2 1084.5 896.5 1083.5 896.8 1082.5 897.1 1081.5 897.3 1080.5 897.6 1079.5 897.9 1078.5 898.2 1077.5 898.8 1076.5 899.2 1075.5 899.8 1074.5 934 1073.5 934 1072.5 934 1071.5 934 1070.5 932 1069.5 932 1068.5 932 1067.5 932 1066.5 910 1065.5 910 1064.5 910 1063.5 910 1062.5 910 1061.5 906.8 1060.5 907.2 1059.5 907.8 1058.5 900.5 1057.5 885.5 1056.5 879.2 1055.5 881.5 1054.5 883.9 1053.5 886.2 1052.5 935.6 1051.5 935.6 1050.5 935.6 1049.5 935.6 1048.5 935.6 1047.5 926 1046.5 926 1045.5 926 1044.5 907.5 1043.5 909.8 1042.5 909.7 1041.5 907.1 1040.5 904.6 1039.5 902 1038.5 899.4 1037.5 896.8 1036.5 894.3 1035.5 889 1034.5 883.5 1033.5 878 1032.5 872.5 1031.5 867 1030.5 861.5 1029.5 865.2 1028.5 869.8 1027.5 874.4 1026.5 879.1 1025.5 883.7 1024.5 886.3 1023.5 887 1022.5 915 1021.5 915 1020.5 915 1019.5 915 1018.5 890.1 1017.5 890.8 1016.5 891.4 1015.5 891.9 1014.5 891 1013.5 890.2 1012.5 889.3 1011.5 888.4 1010.5 906 1009.5 906 1008.5 906 1007.5 906 1006.5 884.1 1005.5 883.2 1004.5 882.3 1003.5 881.4 1002.5 880.9 1001.5 880.7 1000.5 880.5 999.5 880.3 998.5 880.1 997.5 877.1 996.5 871.3 995.5 865.6 994.5 866.2 993.5 867.6 992.5 929 991.5 929 990.5 929 989.5 873.1 988.5 874.5 987.5 875.9 986.5 876.8 985.5 877.6 984.5 878.5 983.5 879.4 982.5 880.2 981.5 881.4 980.5 885 979.5 888.6 978.5 892.3 977.5 895.9 976.5 899.5 975.5 903.2 974.5 904.7 973.5 904.1 972.5 903.5 971.5 913 970.5 913 969.5 913 968.5 913 967.5 913 966.5 913 965.5 899.2 964.5 898.5 963.5 897.9 962.5 897.3 961.5 896.9 960.5 896.6 959.5 908 958.5 908 957.5 908 956.5 908 955.5 928 954.5 928 953.5 928 952.5 928 951.5 928 950.5 893.8 949.5 893.5 948.5 893.2 947.5 893.1 946.5 894.2 945.5 895.2 944.5 896.3 943.5 948 942.5 948 941.5 948 940.5 948 939.5 948 938.5 932 937.5 932 936.5 932 935.5 905.7 934.5 906.8 933.5 907.8 932.5 908.9 931.5 898.1 930.5 886 929.5 880.2 928.5 880.5 927.5 880.8 926.5 881.1 925.5 958 924.5 958 923.5 958 922.5 958 921.5 958 920.5 958 919.5 958 918.5 958 917.5 932 916.5 932 915.5 932 914.5 932 913.5 885.4 912.5 885.7 911.5 886.3 910.5 889.4 909.5 891.1 908.5 891.3 907.5 891.5 906.5 914 905.5 914 904.5 914 903.5 892.3 902.5 892.5 901.5 892.7 900.5 892.9 899.5 888.9 898.5 880.8 897.5 880 896.5 880 895.5 880 894.5 880 893.5 880 892.5 880 891.5 880.6 890.5 881.2 889.5 922 888.5 922 887.5 922 886.5 908 885.5 908 884.5 908 883.5 908 882.5 908 881.5 907 880.5 907 879.5 907 878.5 907 877.5 907 876.5 907 875.5 907 874.5 907 873.5 891.8 872.5 892.4 871.5 893.1 870.5 893.7 869.5 893 868.5 891 867.5 889 866.5 887 865.5 885 864.5 883 863.5 881 862.5 878.6 861.5 875.9 860.5 873.1 859.5 870.4 858.5 870.1 857.5 872.3 856.5 874.6 855.5 876.8 854.5 929.4 853.5 929.4 852.5 929.4 851.5 929.4 850.5 929.4 849.5 929.4 848.5 892.4 847.5 894.7 846.5 896.9 845.5 897.9 844.5 897.6 843.5 897.3 842.5 916 841.5 916 840.5 916 839.5 916 838.5 902.4 837.5 902.4 836.5 902.4 835.5 902.4 834.5 902.4 833.5 894.6 832.5 894.3 831.5 894 830.5 893.1 829.5 892.1 828.5 891.1 827.5 890.1 826.5 889.1 825.5 887.2 824.5 885.1 823.5 883.1 822.5 881.1 821.5 879.1 820.5 877 819.5 875 818.5 874.5 817.5 875.4 816.5 876.3 815.5 877.2 814.5 878.1 813.5 879.1 812.5 880 811.5 880.9 810.5 881.5 809.5 882.1 808.5 908 807.5 908 806.5 908 805.5 908 804.5 926 803.5 926 802.5 926 801.5 926 800.5 887.5 799.5 888.1 798.5 888.7 797.5 887.2 796.5 883.6 795.5 880 794.5 890 793.5 890 792.5 890 791.5 890 790.5 862.1 789.5 858.5 788.5 854.9 787.5 851.4 786.5 853.3 785.5 855.9 784.5 858.4 783.5 883 782.5 883 781.5 883 780.5 883 779.5 871.2 778.5 873.7 777.5 875 776.5 875 775.5 875 774.5 907 773.5 907 772.5 907 771.5 907 770.5 907 769.5 900 768.5 900 767.5 900 766.5 900 765.5 900 764.5 875 763.5 875 762.5 875 761.5 875.8 760.5 876.7 759.5 909.6 758.5 909.6 757.5 909.6 756.5 909.6 755.5 909.6 754.5 882.1 753.5 883 752.5 883.9 751.5 882.5 750.5 880.9 749.5 879.3 748.5 877.7 747.5 876 746.5 874.4 745.5 872.8 744.5 871.2 743.5 871.3 742.5 871.6 741.5 871.9 740.5 872.2 739.5 872.5 738.5 872.8 737.5 873 736.5 872.9 735.5 913 734.5 913 733.5 913 732.5 913 731.5 902 730.5 902 729.5 902 728.5 902 727.5 872 726.5 872.4 725.5 873.3 724.5 874.1 723.5 874.9 722.5 875.8 721.5 923 720.5 923 719.5 923 718.5 923 717.5 923 716.5 923 715.5 923 714.5 923 713.5 901 712.5 901 711.5 901 710.5 901 709.5 886.7 708.5 887.6 707.5 887.5 706.5 886.5 705.5 885.6 704.5 884.6 703.5 892 702.5 892 701.5 892 700.5 892 699.5 892 698.5 878.8 697.5 877.8 696.5 876.9 695.5 876 694.5 876.3 693.5 876.5 692.5 876.8 691.5 877.1 690.5 877.3 689.5 897 688.5 897 687.5 897 686.5 897 685.5 886 684.5 886 683.5 886 682.5 886 681.5 879.6 680.5 879.9 679.5 879.2 678.5 877.6 677.5 875.9 676.5 874.3 675.5 872.7 674.5 871.1 673.5 869.4 672.5 867.8 671.5 866 670.5 864 669.5 862 668.5 860 667.5 859.8 666.5 861.4 665.5 863.1 664.5 864.7 663.5 866.3 662.5 868 661.5 869.6 660.5 871.2 659.5 872.8 658.5 871 657.5 868.8 656.5 866.7 655.5 864.5 654.5 862.3 653.5 860.1 652.5 859.7 651.5 861.1 650.5 862.5 649.5 878 648.5 878 647.5 878 646.5 878 645.5 878 644.5 878 643.5 872.5 642.5 873.9 641.5 875.3 640.5 874.2 639.5 870.5 638.5 866.8 637.5 865.3 636.5 865.9 635.5 866.4 634.5 867 633.5 867.6 632.5 868.1 631.5 868.7 630.5 868.2 629.5 866.5 628.5 864.8 627.5 864.3 626.5 864.9 625.5 865.4 624.5 866 623.5 914.4 622.5 914.4 621.5 914.4 620.5 914.4 619.5 914.4 618.5 877 617.5 877 616.5 877 615.5 877 614.5 871.8 613.5 872.4 612.5 872.9 611.5 868.5 610.5 863.5 609.5 858.5 608.5 853.5 607.5 848.9 606.5 848 605.5 847.1 604.5 846.2 603.5 845.3 602.5 844.4 601.5 844.8 600.5 846.4 599.5 848 598.5 849.7 597.5 864 596.5 864 595.5 864 594.5 864 593.5 864 592.5 859.3 591.5 861 590.5 862.6 589.5 864.2 588.5 864.4 587.5 863.2 586.5 862 585.5 860.8 584.5 889 583.5 889 582.5 889 581.5 856.1 580.5 856 579.5 856 578.5 856 577.5 851.3 576.5 850.2 575.5 849 574.5 847.8 573.5 846.6 572.5 843.7 571.5 839 570.5 834.3 569.5 834.1 568.5 838.3 567.5 842.5 566.5 846.7 565.5 850.9 564.5 855.2 563.5 859.4 562.5 863.6 561.5 863.7 560.5 863.3 559.5 862.9 558.5 862.5 557.5 862.1 556.5 861.7 555.5 861.3 554.5 861 553.5 860.6 552.5 860.2 551.5 857.5 550.5 852.5 549.5 847.5 548.5 842.5 547.5 839.6 546.5 838.8 545.5 837.9 544.5 837.1 543.5 836.2 542.5 835.4 541.5 835.2 540.5 835.8 539.5 836.2 538.5 836.8 537.5 837.7 536.5 839.2 535.5 840.7 534.5 842.2 533.5 843.6 532.5 885 531.5 885 530.5 885 529.5 885 528.5 885 527.5 885 526.5 885 525.5 885 524.5 885 523.5 890 522.5 890 521.5 890 520.5 890 519.5 890 518.5 865.8 517.5 867.3 516.5 865.3 515.5 859.9 514.5 854.5 513.5 849.1 512.5 843.7 511.5 841.1 510.5 841.2 509.5 841.3 508.5 841.4 507.5 841.6 506.5 841.7 505.5 841.8 504.5 841.9 503.5 840.8 502.5 838.2 501.5 835.8 500.5 833.2 499.5 830.8 498.5 828.2 497.5 826.2 496.5 828.3 495.5 830.5 494.5 832.6 493.5 834.7 492.5 836.8 491.5 839 490.5 841.1 489.5 842.9 488.5 841.9 487.5 841 486.5 840 485.5 839 484.5 838 483.5 837.1 482.5 836.1 481.5 841.1 480.5 846.8 479.5 852.4 478.5 858.1 477.5 863.8 476.5 869.4 475.5 864.1 474.5 857.5 473.5 851 472.5 844.4 471.5 837.8 470.5 831.3 469.5 831.3 468.5 830.1 467.5 831.4 466.5 830.8 465.5 829.8 464.5 828.8 463.5 827.8 462.5 826.8 461.5 822.2 460.5 816.9 459.5 811.6 458.5 806.2 457.5 800.9 456.5 802.2 455.5 804.8 454.5 821.3 453.5 821.3 452.5 821.3 451.5 821.3 450.5 817.7 449.5 820.3 448.5 822.9 447.5 818 446.5 811.5 445.5 805.1 444.5 798.7 443.5 793.8 442.5 796.9 441.5 800 440.5 803.1 439.5 806.2 438.5 800.9 437.5 794 436.5 787.1 435.5 780.1 434.5 776.7 433.5 776.7 432.5 776.7 431.5 776.7 430.5 776.7 429.5 776.7 428.5 776.7 427.5 776.7 426.5 776.7 425.5 776.7 424.5 770 423.5 762 422.5 754 421.5 746 420.5 738 419.5 740.8 418.5 745.8 417.5 750.8 416.5 755.8 415.5 759.8 414.5 758.3 413.5 756.9 412.5 755.5 411.5 754 410.5 751.8 409.5 748.7 408.5 745.6 407.5 742.6 406.5 739.4 405.5 735.7 404.5 739.7 403.5 739.7 402.5 739.7 401.5 739.7 400.5 739.7 399.5 713.7 398.5 710.1 397.5 706.4 396.5 703.4 395.5 703.7 394.5 704 393.5 704.3 392.5 721.3 391.5 721.3 390.5 721.3 389.5 721.3 388.5 721.3 387.5 706.1 386.5 706.4 385.5 705.8 384.5 700.4 383.5 695.1 382.5 689.8 381.5 684.4 380.5 679 379.5 673.3 378.5 667.6 377.5 661.9 376.5 656.2 375.5 650.3 374.5 644.1 373.5 637.9 372.5 631.8 371.5 624.1 370.5 608.7 369.5 593.3 368.5 577.9 367.5 610.4 366.5 592.5 365.5 523.7 364.5 522.6 363.5 513.5 362.5 503.3 361.5 500 360.5 514 359.5 514 358.5 514 357.5 505 356.5 458.7 355.5 456 354.5 453.3 353.5 441.3 352.5 420Z" fill="#808080"/>
<path d="M383.1 329.1V523.1M385.2 353.1V534.5M391.2 326.5V538.4M393.2 343.1V541.5M397.5 364V539.2M400.4 372.1V560.2M402.4 384.6V571.7M405.3 414.1V574.2M409.4 365.1V581.4M415 372.1V593.8M419.7 434.8V592.2M422.4 393.6V600.1M428 430.1V609M430.7 422.8V602.6M433 411.7V604M436 440.1V617.4M438 462.8V630.5M444 426.1V628.8M449.6 412.1V638.6M456 451.1V631.4M457.6 437.4V625.5M460 401.1V639.2M469.4 479.1V670.3M476 489.7V684.4M480 494.1V671.8M484.4 482.1V660.6M488.4 458.1V655.2M492.4 467.1V660.6M495 486.1V667.7M502 518.1V678.7M507.6 444.1V679.3M511 508.1V676.1M514 514.1V682.9M518 469.5V680.5M523.6 475.1V682.8M527 486.1V686.8M529.6 491.1V689.5M535 507.1V678.5M539.4 492.1V683.3M545.6 492.1V686.9M550 503.1V676.5M554 480.7V688.6M557 530.1V699.8M566 528.1V692.8M570 504.1V675.1M573 488.1V670.6M577 476.1V677.9M580 522.1V689M584.4 505.1V707.3M589 526.1V697.8M594 532.1V699M601.4 511.1V690.3M606 508.1V684.9M609.6 495.1V682.8M614.4 472.7V694.7M617 520.1V703.5M623.6 516.1V725.2M627.6 469.5V691.7M633.4 516.1V693.4M638 484.1V687M641 500.1V692.4M644 520.1V697.6M647.6 512.1V698.7M652 514.1V687.2M655 504.1V697.4M661.6 502.1V707.8M665 531.1V701.4M674.4 526.5V713.1M680 514.1V708.4M684.4 502.7V712.6M688 542.1V719.5M692 513.5V706.5M696 530.1V703.2M700.6 510.1V712.3M703 556.1V726.3M711 535.1V727.3M716 540.1V731.5M720 534.1V730M726 507.7V703.7M730 535.1V718.5M735 502.1V728.2M737 552.1V712.5M740.6 516.1V713.6M746 550.1V719.7M753 509.1V706.5M757 490.1V725.6M764.4 513.1V705.4M768 532.1V724M772 564.1V735.3M776 531.1V713M782 538.1V710.5M786 507.1V702.3M790 562.1V712.2M793 566.1V729.3M799.4 501.7V717.9M804 545.1V741.2M808 568.1V738M813.4 506.7V722.7M818.6 566.1V720.7M824.4 505.1V733.4M830 566.1V740.8M838 545.1V734.8M841 524.5V740.1M848 564.5V731.6M852 546.5V742.4M856.6 545.7V711.1M860 561.1V715.5M863 540.1V714.9M867.4 531.1V710.4M870.4 507.7V726.3M876.6 558.1V735.8M882.6 540.7V737.4M889 543.7V738.8M894 532.1V716.8M898 563.7V723.1M905.6 504.7V738.2M910.6 517.7V704.1M915.6 533.1V734.1M922 538.1V757.8M927 530.1V710.4M931 526.1V713.7M937 524.1V731.6M940.4 498.1V744M945 545.1V717.9M949.6 506.1V711M952.4 475.1V725.5M958 481.5V723.5M961 547.1V725.4M967.4 423.7V739.2M971.6 564.5V738.4M977 548.1V726.7M981.4 534.5V719.6M986.6 540.1V716.3M991 537.7V733.9M994.4 523.5V710.3M998 556.1V719.9M1001.6 499.1V722.6M1005 538.1V718M1010 523.5V738.4M1015 550.1V726.8M1018 530.1V727.1M1023.4 547.5V731.9M1030 517.5V712.9M1035 539.1V715.2M1038.2 502.1V716.2M1043.6 481.1V717.9M1048 532.1V731.7M1053.4 524.1V708M1057 486.1V693.7M1060.4 478.7V720.1M1063 538.1V731.8M1068.6 485.1V752M1071 544.1V746.5M1079 573.7V736M1083.4 567.7V734M1090.6 543.7V723M1094 530.1V707.9M1097 519.5V724M1101.4 555.1V721.5M1105 521.5V717.7M1109.4 542.7V728M1116 531.7V727.7M1121.4 451.1V719.8M1128 515.5V726.7M1133 573.1V732.6M1137 567.1V735.3M1139.4 550.1V731.5M1142.4 542.1V728.4M1146.4 557.1V723.4M1151 544.5V734.4M1158 534.1V722.7M1161.6 533.5V707M1167 512.1V718.9M1173 522.7V718.1M1181 578.1V735.1M1185.6 524.5V725.8M1189 530.1V713.3M1192.6 533.5V722M1196 540.1V729.2M1199 580.7V733.5M1204.6 546.5V749.7M1209 561.1V725M1213.4 540.1V733.4M1218 550.1V728.5M1222 535.1V723.7M1227.6 544.5V724.5M1233.4 539.1V730.7M1237 552.1V731M1241.4 525.5V718.2M1246.6 542.1V720.6M1250 547.1V722M1253.4 536.5V732.1M1257 558.1V729M1260 562.1V728.3M1267 557.1V726.4M1275 562.1V732.5M1279.6 513.1V739.1M1286.4 551.1V728.9M1291 572.1V742M1296 547.1V741.6M1298.6 528.5V726.1M1303 539.1V717.7M1305 552.1V726.1M1308 573.1V733.4M1312 574.1V734.3M1316 570.1V733.3M1319.8 539.1V755.5M1323.4 560.1V745.8M1329.6 550.1V736.4M1335 550.5V726.9M1338.6 540.1V717.4M1342 538.1V713M1345 560.1V736.7M1350.6 505.1V757.2M1356 580.7V733.7M1361.6 571.7V737.4M1367.6 559.1V732.4M1370.8 528.5V727.9M1375.6 569.1V732.1M1379 565.7V736.8M1386 551.5V742.3M1390 568.1V724M1395.6 543.1V738M1398.2 523.5V736.4M1402 552.1V744.7M1408 558.1V740.8M1413 544.1V727M1417 542.1V717.6M1420 526.1V713.4M1422 508.7V729M1425 542.1V741.2M1434 571.1V731.3M1437.4 544.1V726.8M1441 552.1V731.7M1444.4 542.7V724.2M1448.4 547.1V725.9M1452.4 538.7V729.5M1457 551.1V730.4M1461.6 540.7V723.6M1466.4 546.1V721.1M1470.2 490.1V736.4M1474.4 586.1V747M1480 568.1V729.4M1483.4 534.1V740.4M1488 589.1V752M1492.8 526.1V753.5M1498 595.1V748.9M1501 561.1V736.8M1503.4 553.1V733.9M1507.4 570.1V731.3M1510.6 485.5V733.7M1514 576.1V748.2M1517.4 545.1V735.3M1521 582.1V739.4M1524 587.1V736.4M1528 539.1V714M1531.4 562.1V737.5M1535 533.1V724.6M1538.4 573.1V728.1M1542.4 499.5V726.2M1547.4 548.5V726.4M1551 559.1V727.5M1555 522.1V720.5M1559 470.1V710M1564 533.1V706.2M1568 520.1V720M1573 572.1V734.2M1578.4 540.1V729.6M1584.4 554.5V728.7M1588.6 546.5V735.9M1592.4 568.1V742.9M1595 576.1V745.8M1597.4 585.1V752.7M1602 515.7V760.3M1605.6 574.1V755.3M1609.2 525.5V741.9M1614.4 540.5V740.8M1619.4 556.1V728.8M1623.6 543.1V727.3M1628.6 547.1V741.3M1632.6 568.1V744.4M1637.4 510.7V741.3M1641 553.1V733.4M1644.8 535.7V732.1M1650 548.1V724.2M1652 494.1V705.4M1655.8 458.1V700.5M1659 488.1V717.7M1662.4 539.1V741.9M1665 551.1V750.7M1673 553.1V729.2M1677.4 508.1V731.8M1683.4 493.1V732.3M1690 541.5V735.9M1696 528.5V722.4M1700 488.7V705M1704.6 494.5V693.8M1709 569.1V731.2M1715.4 566.7V740.2M1718.6 578.1V742.4M1722.8 562.7V749.5M1725.6 600.1V758.4M1733.2 422.7V738.2M1737.4 544.1V729.6M1739 548.1V732.1M1743.4 496.1V743.8M1749 522.1V745.6M1754.4 541.5V746.7M1760 535.7V725.7M1764.2 463.1V718M1768 558.1V736.5M1774 581.1V749.4M1777 560.5V749.5M1782.4 570.1V736.1M1785.6 551.1V746.8M1792 581.1V754.5M1795.4 510.1V736M1799.4 555.1V732.7M1803.2 542.1V743.4M1810 562.1V744.3M1812.8 557.5V742.1M1817.6 561.5V748.6M1822.6 556.5V752.1M1829 583.1V773.9M1831.4 542.5V729.3M1835 554.5V731.7M1837.6 569.1V739M1843.8 552.5V752M1853.6 602.1V764.4M1858.8 597.7V760.1M1864.2 551.1V743.4M1866.6 561.1V740M1871.4 558.5V757.4M1876 596.5V756.3M1880 557.7V750M1885.8 570.5V766.3M1890.4 595.5V754.7M1898 573.1V759M1900.6 598.1V753.3M374.3 652.9V459.3M378.3 677.9V496.8M383.3 707.9V523.7M388.3 730.6V550.6M393.3 721.2V543.2M400 741.9V552.5M405 739.6V574.5M409 812.9V580.7M413.3 754.6V588.7M418.3 767.2V595.3M422.7 774.6V601.9M428.3 821.2V605.2M432.7 771.2V601.1M437.3 817.9V627.7M441.7 811.2V631.8M446 824.6V633.7M451 854.6V638.1M455 821.2V639.2M460 824.6V639.2M465 842.9V670M469.3 831.2V670.3M473.4 902.9V679.6M479 873.9V674.6M486 899.9V660.8M493.4 891.9V660.5M500.6 877.3V678.1M508.4 851.9V675.2M515 864.9V685.6M519.4 889.9V681.3M523.6 892.9V682.8M528 884.9V688M533.4 884.9V685.1M545 854.5V688.4M549.6 837.9V675.5M555 857.9V695.6M559.4 889.3V704.5M565.4 904.9V698.4M578 855.9V687.8M582.4 924.3V703.9M585 888.9V700.5M593 867.9V698.8M598 863.9V694.4M605 884.3V691.4M610 868.9V681.2M615 876.9V697.2M619.4 924.5V725.8M624.4 914.3V694.8M634.4 918.5V691.5M643.6 881.9V696.5M649.6 877.9V695.2M656.4 888.9V707.7M662.4 881.9V700.4M677 877.9V717.1M682 885.9V698.4M686 900.9V716.8M690.4 896.9V710.6M699.4 925.9V710.3M704 891.9V726.8M710 900.9V730.4M714 944.9V726M718.6 922.9V731.5M722 955.9V716.7M728 901.9V711M732.2 935.5V722.4M736 912.9V722.5M741.6 911.9V727.1M750 888.9V715M755 918.5V702.4M759.6 909.5V739.6M765 899.9V709.8M770 906.9V733.8M775.2 910.9V724.2M780 882.9V707.5M784.4 891.9V699.4M791 889.9V721M794.6 934.5V730.4M801 957.9V725.9M805 925.9V742.2M809 907.9V731.5M814 889.9V722.3M823.4 913.5V731.4M828.6 907.9V739.8M834 902.3V744.6M839.4 920.9V729.8M843 915.9V743.9M849.2 936.5V741.4M855.2 929.3V719.5M860 877.9V715.5M867 931.9V711.8M874 924.9V731.3M879 906.9V736.4M882 907.9V737.1M887 921.9V741.3M890 922.9V722.6M895.4 879.9V721.8M904 913.9V735.5M906.6 952.5V714.7M914 931.9V720.8M918.4 971.3V759.6M922.4 957.9V757.4M926.4 962.9V719.3M935.6 931.9V722.9M939.4 947.9V735.2M943.6 965.5V742.8M951 927.9V708.5M955.6 928.9V724.9M960 907.9V724.6M965.6 922.3V737.9M972 912.9V737.1M978.4 901.5V720.3M984.4 894.3V717.5M989.8 946.3V714.9M992.6 928.9V730.2M1000 895.3V723.8M1007 905.9V732M1011.2 963.5V732.7M1019 914.9V740.2M1022.6 929.3V743.8M1028 882.9V719.1M1033.4 898.5V715.7M1040.6 933.9V714.4M1045 925.9V722.6M1048.4 971.3V733.4M1053.4 935.5V708M1061.6 909.9V722.5M1067 931.9V747.8M1070.6 1024.5V739.7M1075.4 933.9V739.7M1083.8 900.9V733.8M1089.2 931.9V726.9M1097 928.9V724M1101.4 971.9V721.5M1108 887.9V717.8M1112 925.9V737.9M1115 961.5V735.2M1120.6 930.5V721.1M1127.4 916.3V724.7M1133.6 897.3V729.7M1137.8 931.9V735.6M1142 908.9V728.1M1150.4 903.9V730M1155.6 938.5V736.3M1161 895.3V706.9M1167 883.9V718.9M1171 926.5V718.5M1177 933.9V732.3M1182.4 935.9V731.5M1191.4 931.9V720.9M1196 909.9V729.2M1202 927.9V743.4M1208 918.5V732.4M1216.8 938.5V733.5M1223 911.9V723.7M1228 909.9V725.3M1233 909.9V729.4M1237.6 938.5V729.9M1242.6 908.9V718.4M1251 938.5V723.6M1256 921.3V729.4M1262 890.9V728.7M1268 892.9V729.4M1273 901.3V731.8M1279 895.9V736.6M1283.6 919.3V740.4M1290.6 937.3V732M1296 928.9V741.6M1300 905.9V718.1M1307.6 901.3V731.4M1312.4 938.9V732.7M1317.6 946.5V737.3M1321 943.9V744.4M1326 935.5V742.6M1335.4 946.9V721.6M1345 919.9V736.7M1349 931.9V755.7M1353 979.5V743.1M1361.6 953.5V737.4M1367.4 931.5V735.2M1380.4 999.9V776.7M1386 956.9V742.3M1394.4 928.5V735.6M1400 909.9V738.3M1408 946.9V740.8M1421 923.9V717.3M1427.6 934.9V749.1M1433 910.9V733.1M1438 911.9V729.8M1442.8 934.9V730.3M1453.2 953.5V729.9M1460.4 918.9V724.4M1471 905.9V744.1M1475.6 908.9V746.4M1485.6 935.9V746.1M1492.4 943.5V750.9M1501.6 948.9V730.7M1511 925.3V739.7M1515 922.9V741.4M1519.6 913.9V737.5M1529.6 912.9V717.5M1533.4 915.9V722.5M1538.4 940.9V728.1M1551.4 960.3V727.6M1560.6 945.9V710.2M1569 984.3V729.5M1577.6 931.9V729.8M1586 915.9V731.6M1590.6 922.9V741.7M1596.4 926.9V747.7M1601.4 942.9V762.8M1606 938.9V750.3M1611.4 933.3V742.2M1615.6 921.9V739.2M1623.6 910.5V727.3M1630.6 952.9V741.8M1635.6 927.9V745.1M1640 938.9V737.1M1647 907.9V738.5M1653.6 911.9V695.9M1659 933.9V717.7M1663 939.9V744M1667.4 943.5V737.2M1675 962.9V725.8M1683.6 934.9V733.2M1688 912.9V738.8M1700 905.9V705M1704 907.9V695.2M1709.4 914.5V733.4M1715 928.9V741.1M1720 963.9V743.7M1727 924.9V765.3M1731.6 958.5V755.8M1737 917.9V730.2M1743 921.9V742.1M1747.4 955.9V753.3M1753 934.9V734.1M1758 917.9V739.3M1766 933.9V725.6M1774 921.9V749.4M1779.4 923.9V740.3M1789.4 932.9V755.3M1794 924.9V750.5M1800 927.9V732.4M1809 925.9V750.2M1816.2 963.9V748.6M1821 920.9V747.8M1826.4 954.9V776.7M1830.2 981.9V750.5M1837 934.9V736.8M1842 907.9V753.4M1850 916.9V761M1854.4 922.9V759.9M1861 909.3V759.3M1870.4 937.9V756.6M1878 925.9V753.2M1884.8 956.9V754.8M1888.4 938.9V754.3M1894 927.9V760.2M1898.4 1005.9V754.7" fill="none" stroke="#808080" stroke-width="4.17" stroke-linecap="round"/>
<path d="M1902.5 650V853M1901.9 650V867" fill="none" stroke="#808080" stroke-width="4.17" stroke-linecap="round"/>
<path d="M366.6 186.6V400M362.3 191.1V400M358.6 220.1V400M370.3 242.1V400M374.3 276.1V400M378.3 329.1V400" fill="none" stroke="#808080" stroke-width="4.17" stroke-linecap="round"/>
<path d="M353 380 353 303 354.4 302 354.4 410 354.4 302 355.8 310 355.8 372 357 340 358.8 338 360.3 362 361.3 378 361 390 362.8 378 364 392 365.5 378 366.5 393 368 382 369 396 372 446 371.6 447.6 373.1 450.3 372.9 454.5 371.3 458 371.5 460.7 371.9 462.4 373.5 468.3 374 470 372.8 472.4 375 478.8 375 480.1 375 484 377.6 485.2 377.9 489.2 375.9 491.5 378 496 378 500.3 378.3 502.3 380.8 504.5 381 508 381.7 509.3 380.3 512.8 383.2 516.7 383 520 382.8 523.8 383.8 526.2 385.6 531.3 385 534 384.5 537.3 386.1 541.5 387.4 542.2 388.8 544.5 387.2 550 388 552 387.4 548.5 387.7 545.7 391.3 541.8 391 538 392.8 540.3 392.4 544.4 392.3 546.8 393.6 551.8 392.6 553.7 393 556 391.7 560 394.4 564.4 395.4 564.7 394.2 569.5 395 572 393.6 568.7 394.6 564.2 394.6 563.6 395.3 558.4 396.7 557.8 396 552.9 398 550 400 564 400 578.4 402 588 402.7 560.9 405.3 581.5 406 588 407.5 573.5 410 573 410.2 594.1 412.1 583.1 413 586 414.2 594.8 416 598 416.5 587.3 418.6 600.2 420 606 420.8 596.2 423.1 614.3 424 616 425.6 603.5 428 604 428 622.5 429.9 607.7 432 606 432.5 633.9 434 620 435 626 435.1 634.9 437.3 627.3 438 640 439.7 632 440 652 441.6 633 443.6 648.1 444 628 445.5 646.1 447 638 447.4 648.6 449.6 641.8 450 644 452.3 657.7 452.4 662 454.2 642.7 456.4 659.6 457 636 458.4 667.8 460 644 461.1 666.3 463 654 463.4 663.8 465 672 465.3 650.7 467.4 678.8 468 682 469.4 657.9 470.4 645 472.1 674.7 473.6 680 474.1 655.4 476 670.3 476.4 654 478.7 666.1 479 666 481.2 658.7 482.4 654 483.3 669.4 485 680 485.9 660.5 488.5 674.5 489 680 490.5 661 492.6 661 493.2 680.4 495.8 661.7 496 674 498.4 666.4 500 684 500.7 665.3 502.5 677.9 504 658 504.6 683.6 506 696 507.1 661.5 509.4 696.8 510 680 512.1 698.3 514 676 514.3 690.4 516.3 678.9 518.4 697.5 519 672 521 703 521 673.9 523.3 694.7 524 672 525.9 686 528 688 528.3 675.7 530.9 689.6 532 678 533.2 688.5 535 678 535.7 691.2 538.3 676.1 540 700 540.5 680.1 543.2 693.7 544 688 545.2 678.8 547.2 690.6 547.6 670 549.8 683.3 550 688 552.4 676.3 553 677 554.8 685.4 556 688 557.2 681.7 559 678 559 693.3 561 697 561.5 682.1 564.2 694.3 565 680 566.8 697.9 568.8 685 569 700 571 685.2 573.3 696.4 574 678 575.6 696.7 578 692 578.2 701 580.5 687.2 583 711 583.2 690.8 585.9 708.4 588 689 588.2 710.5 590 696.2 592 708.6 593 719 594.6 701.4 596 696 596.9 710 599.3 694.4 600 706 601.6 688.8 603.6 682 604.1 695.1 606.5 689.5 607 698 608.6 689.6 610.9 699.9 611 692 613.4 703.3 615.7 692 616 706 618 691.5 619 687 620.5 700 622.8 689.2 623 686 625.5 698.8 626 700 628.1 688.1 629 688 630.2 704.9 632 712 632.9 687.3 634.9 701.7 637.1 692.1 637.6 683 639.2 699.3 641 706 641.7 688.5 644.3 703.7 645 690 646.8 710.8 648.8 692.8 650 718 651.5 700.7 654 694 654.2 715.9 656.5 694.8 657 725 659.1 704.4 661.4 718.1 661.6 696 663.5 714.4 665 716 665.7 699.9 667.5 716.5 669.8 706.3 670 719 671.9 702.5 674.2 714.2 676 701 677 721.7 679.7 709.7 681.8 717.8 682 704 684 728 684.3 709.7 686.3 721.2 689 705.3 689 714 691.1 710.1 693.7 717.9 694 705 696.2 713.7 698 717 698.1 705.8 700 704 700.3 716.5 703 708.9 705 735 705.6 716.5 708 708 708.3 725.4 710.9 715.7 712 726 713 716.6 715.7 729 716 734 717.7 720.4 718 718 719.7 726.3 721.7 718.2 722 731 723.8 713.4 725.9 729.1 726 703 728 726.8 730 711.5 730 720 731.9 713.2 733 733 733.7 709 736 714 736.1 725.1 738.3 709 740.3 730.9 742 710 742.5 728.1 745.1 715 746 732 747.4 712.7 749 712 750.2 728.7 752.8 712.9 753 710 755.2 732 756 728 757.4 721.5 759.3 730.9 761 742 761.8 721.1 763.6 714 763.8 730.9 766.4 717.3 768 736 768.9 723.2 771 733.3 771 720 773.2 732.8 775 741 775.5 722.5 778.2 739.6 779 712 780.5 731.7 783.3 721.2 783.6 737.9 785.4 725.4 787.6 718.7 787.6 736.6 789.9 726.1 792.2 735.1 794.3 728.6 795 746.5 796.5 728.8 798.4 736.7 800.4 723.5 801 720.5 802.8 735.8 804 735.9 805.2 721.7 806.4 719.7 807.9 735.2 810 719.9 811 742.9 812 722.2 813.6 719.9 814.4 734.1 817 723.7 817 740.5 819 740.9 819.4 722.1 822 734.5 824.3 724.1 826 739.9 827 721.7 828.4 720.1 829.6 739 832.2 723.5 832.4 742.9 834.7 727.6 836.6 736.1 838.7 729.2 839.6 722.5 841.3 739.6 843.8 726.2 844 742.9 846 724.1 846.2 740.8 848.1 727.3 849 744.9 850.6 731.7 852.9 747.5 854 750.9 854.8 733.2 856.4 732.7 856.9 741.8 859 732.5 861 740.9 861 731.1 863.8 739.4 865.9 730.2 866 727.1 868.4 742.4 870.8 730.2 871 744.9 872.7 733.8 874 728.5 874.8 744.6 876.6 746.9 876.9 732.2 878.8 742.1 880 730.1 880.9 748 883.3 729.9 883.4 752.9 885.4 729.1 887 723.1 887.7 740.8 889.7 720 891 739.9 891.7 716.3 893 714.1 894.4 734.1 896.7 718.4 899 722.1 899.4 746 900 754.3 901.5 728.8 904 748.9 904.2 728.8 906.6 738.1 908.9 723.4 909 723.1 910.8 739.1 912 738.9 913.1 719.8 915.6 735.6 917 715.1 918.3 741 920.2 731 921 749.9 922.5 729.2 924.6 740.3 926 730.1 926.7 739.8 929.3 726.2 930 740.9 930.6 712.1 931.9 738.2 933.8 712.9 936.3 736.5 937 717.1 938.4 730.7 940.6 712.4 941 734.9 942.4 712.5 943 732.2 945.2 722.4 947 744.9 947.1 726.2 949.6 719.1 949.7 736 952.4 724.8 953 738.9 954.5 722.9 956.5 736.4 958 718.9 959.3 743 961.8 723.5 964 747.9 964.5 721.2 966.9 744.3 968.8 724.1 969 721.7 971 743.4 973.4 725.3 974 744.9 975.3 717.4 977.3 738 978 714.5 979.4 735.5 982 716 984 737.9 986 722.1 986.2 736.4 987 739.9 988.4 724.8 990.3 733.8 992 719.1 993 736.4 995.1 719.8 997.6 719.1 997.8 736.3 999 740.9 999.8 725.6 1001.7 735.2 1003 718.9 1003.6 734 1005.7 721.5 1008 719.9 1008.4 737.3 1010.6 721.2 1011 738.9 1012.9 721.5 1015.1 734.1 1015.4 714.5 1017.2 747.1 1019.1 722.3 1021 752.9 1021.5 718.6 1023.6 738.4 1025 718.1 1025.6 735.6 1026 739.9 1027.9 715.6 1030.4 712.7 1030.5 738.3 1032.4 722.8 1034.9 738.3 1037.1 718.6 1038 719.1 1039 733.7 1041 738.9 1041.7 717.8 1044 717.1 1044.3 741.6 1046.4 726.4 1048 718.1 1048.3 740.6 1050 746.9 1050.8 719.6 1053.3 739 1054 719.9 1055.9 734.3 1056 737.9 1058.2 725.7 1059.4 717.7 1060.8 734.1 1063.5 721.9 1065 742.9 1065.6 727.1 1067.6 740.6 1068 721.9 1070.1 736.7 1072 725.4 1074.4 721.7 1074.4 740.6 1076.5 726.9 1078.3 741.7 1079 747.9 1080.6 727 1081.6 727.5 1083 741.2 1085 738.9 1085.3 729.5 1087.4 740 1088 723.7 1089.8 736.8 1091.7 726.1 1092 722.1 1094.2 739.6 1096 744.9 1096.2 728.3 1098.9 742.2 1100.8 734.8 1101 730.1 1103 749.3 1104 752.9 1105 731.1 1107.6 745.2 1109.6 728.9 1111 728.5 1111.7 743.1 1112 743.9 1113.8 730 1116.3 739.1 1116.6 719.1 1119 742.7 1121 730.7 1123.3 746.8 1123.4 749.9 1126 734.1 1127 729.1 1128.2 739.7 1130 741.9 1130.9 733.3 1132.8 738 1135 729.5 1137.7 742.9 1138 728.9 1140.4 744.9 1142 745.9 1142.6 730.8 1145.3 741.9 1146.4 720.5 1147.1 740.2 1149 741.9 1149.3 725.7 1151.5 735 1153 721.1 1153.3 735.5 1155.5 720.2 1157 739.9 1157.4 719.2 1159 718.1 1159.5 734.6 1162 739.9 1162.1 719.5 1164.3 732.1 1166.6 723.1 1168 717.9 1169.3 733.2 1171.4 718.2 1172 739.9 1173.3 722.3 1174.6 716.7 1175.9 741.2 1177.8 726.9 1178.4 745.9 1179.7 717.2 1181.7 740.5 1184.4 722.2 1185 716.1 1186.5 738.7 1188.9 718.5 1189 736.9 1191.4 716.5 1191.4 708.5 1193.5 730.3 1196 713.8 1197 719.1 1198.4 747.1 1199 742.9 1200.3 726.3 1202 751.9 1202.6 719.4 1205.3 741.7 1206 722.1 1207.4 740.8 1209.7 728.8 1210 741.9 1211.7 732.7 1213 734.1 1214.2 745.2 1216 747.9 1216.7 733 1218.9 744.6 1220 727.1 1221.1 749.9 1223 734.2 1224 754.3 1225.5 732.7 1226.6 724.5 1227.4 741.1 1229.8 731.7 1232 744.9 1232.5 728.7 1235.2 741.4 1237.2 736 1238 731.1 1239.5 745.5 1240 747.5 1241.7 735.3 1243.9 747 1246 746.9 1246.4 730.6 1247.6 728.1 1249 749.8 1251 728.1 1252 754.9 1253.1 729.6 1253.6 725.1 1255.3 742.6 1257.3 727.5 1258 735.9 1259.4 727.4 1260 722.1 1262 739 1264.1 727.4 1265 746.9 1266.9 726.5 1268 722.1 1269 742.9 1271.4 723 1273 741.9 1273.3 727.1 1275.9 742.3 1276 724.1 1278.6 744.9 1278.6 732.2 1280.7 737.9 1281 726.1 1282.7 742.5 1285.1 726.9 1286 740.9 1287.3 727.5 1289.5 737.4 1290.4 727.1 1292.1 741.5 1293 741.9 1294 732.7 1296.4 741.5 1297 734.1 1298.6 742.4 1299 746.9 1300.6 736.6 1303 731.9 1303 744.4 1305 745.9 1305.1 736.4 1307.2 745 1309.2 733.7 1309.6 728.5 1311.2 747.6 1312 749.5 1313.6 735.7 1315 729.1 1315.5 742.7 1317.9 729.6 1318 744.9 1319.8 731.8 1321 723.1 1322.3 739.7 1324.4 728.3 1325.6 722.1 1327.1 737.9 1329.5 728.4 1331 723.1 1331.7 741.4 1333.6 741.9 1334.4 730.1 1336.5 741.8 1338.5 734.3 1340 728.9 1341 745.9 1341.1 732.8 1343.7 739.7 1345 730.1 1346.4 736.9 1348.4 729.1 1349 735.9 1350.7 723 1352.4 718.1 1353.4 733 1355.8 729.2 1356 741.9 1358.1 734.2 1359 732.1 1360.2 741.1 1362.9 733.4 1365 744.9 1365.2 726.9 1367.9 737.2 1368.4 722.1 1369.9 742.1 1371 741.9 1372.6 730.2 1374 729.1 1374.5 741.3 1376 741.5 1376.7 729.8 1379.1 743.7 1379.6 729.7 1381.1 745.2 1382.4 747.9 1383.2 731.7 1385.8 744.1 1387.8 729.7 1388 723.7 1390 739.1 1392.2 731 1393 739.9 1394.3 728.8 1395 728.1 1396.9 733.7 1399.3 722.2 1400 737.9 1401.2 718.6 1401.6 716.5 1403.1 739.1 1405.4 726.6 1406 746.9 1407.6 731.8 1409 729.9 1409.9 744.9 1412.4 730.6 1412.4 750.9 1414.6 732.3 1417 719.1 1417 742.6 1419.1 722.3 1421 745.9 1421.7 725.9 1423.7 739.5 1425.6 729 1427 723.1 1427.8 734.3 1430 738.9 1430.1 723.5 1432 737.9 1432.4 717.7 1433.9 740.9 1436.4 745.9 1436.4 729 1438.3 742.2 1439 730.1 1440.5 744.2 1442.5 730.3 1445 742.9 1445.2 730.5 1447.8 739.8 1449 728.5 1450.6 742.9 1453.3 729.4 1455 748.9 1455.3 730.6 1456.6 729.1 1458 741.5 1460.1 730.7 1462.1 746.7 1463 736.1 1464.2 745.7 1464.4 746.9 1466.2 732.2 1468.9 742.2 1470.4 728.5 1471 744.8 1472.4 748.9 1473.1 735.6 1475.1 743.2 1477 743.9 1477.8 729.6 1480.5 744.9 1481.4 725.7 1483 754.9 1483 735.9 1485.4 751.5 1487.5 730.1 1488 729.1 1489.9 751.7 1490 741.9 1492.5 747.1 1495.3 732.9 1497 756.9 1497.5 731.1 1499.6 752.3 1500 729.1 1501.9 743.5 1504.5 731 1505 742.9 1506 728.1 1506.5 742 1508.4 727.6 1510.4 742.7 1512.4 725.1 1513.2 743.3 1514 746.9 1515.6 731.8 1517.5 740.1 1519.5 731 1520 728.5 1521.7 744.2 1522.4 745.9 1524.4 732.9 1526.4 745.5 1528 748.9 1528.3 732.5 1529.6 721.7 1530.4 740.4 1532.6 731.2 1535 746.9 1537 729.4 1537.6 733.1 1539.3 744.1 1539.4 752.3 1542 735.2 1543 729.1 1544 744.4 1546.4 730.9 1547.6 751.9 1549 735.1 1551 730.9 1551 743 1553.5 732.7 1555 747.9 1555.6 730.9 1557 724.5 1557.9 746.3 1560.4 731.3 1563 724.1 1563.1 737.3 1565.4 728.8 1566 743.5 1567.5 731.4 1569 725.1 1570 736.3 1572.4 724.4 1573 742.9 1574.3 729.2 1576.6 722.5 1576.7 739.4 1579.2 726.3 1580 743.5 1581.2 731.6 1582.6 728.5 1583.3 740.5 1585.9 731.7 1588.4 752.3 1588.4 739.1 1591 749.8 1593.3 735.2 1593.6 733.7 1595.6 745.6 1597.5 738 1598 749.9 1599.4 737.4 1601.9 750.5 1602.6 732.5 1604.5 752.3 1606.6 735.8 1608 757.3 1608.9 733.1 1611.2 746.1 1613.6 730.4 1615 729.9 1615.6 743.8 1616 743.9 1617.5 729.7 1619.6 744.5 1620 717.5 1622.3 747.1 1622.4 749.9 1624.4 727.2 1626.6 745 1628 733.1 1629.2 748.6 1631 751.9 1631.7 729.1 1633.6 722.1 1634.4 747.4 1637 754.9 1637.1 725.8 1639 722.1 1639.7 745.6 1640 723.1 1642.2 744.8 1644.3 729.7 1646 744.9 1646.7 730.3 1649.4 737.8 1651.3 730.3 1653 723.1 1654 739.6 1655.6 744.9 1655.9 731.4 1657.8 742 1660.2 726.8 1662 725.1 1662.8 736.8 1663 742.9 1665.1 730.3 1667.7 739.7 1668 728.1 1669 739.9 1670.4 731.8 1673 724.9 1673 744.2 1675.6 747.9 1675.7 731.2 1677.8 739.7 1678 721.1 1679.6 748 1682.2 722.4 1682.4 717.7 1684.4 751.9 1684.8 724.9 1686.9 742.3 1688.9 727.9 1690 741.9 1690.9 734.2 1691 728.1 1693.1 743.8 1695.2 735.8 1697.7 747.6 1698.4 752.9 1699 730.9 1699.8 752.3 1702.1 728.4 1703 751.9 1704.5 732.8 1706.4 721.7 1706.8 738.7 1709 737.9 1709.3 728.3 1711.8 740 1712 728.1 1713.8 745 1715.6 748.9 1715.8 726.2 1717.4 723.1 1717.8 740.1 1719.8 729.8 1722.5 744.8 1723 751.9 1724 736.1 1724.8 749.9 1727.4 741.8 1729 755.9 1729.7 740.7 1732.3 746.7 1734 751.9 1735 738.9 1735 736.1 1737 742.3 1738 741.9 1739.3 735.6 1741 729.7 1741.8 741.6 1744.3 736.8 1745 751.9 1746.9 741.1 1749.1 752.6 1750 744.1 1751.3 756.9 1753.2 741.6 1754 759.9 1755 744.6 1757 736.9 1757.1 753 1759.4 738.5 1760 747.9 1762 731.1 1762.1 743.3 1764.3 734.5 1766.9 744.2 1767 730.1 1769 744.9 1769.3 733.2 1771.5 742.1 1773 728.1 1774.1 749.1 1776.6 737.3 1778.8 756.4 1780 733.1 1781 761.9 1781.2 740.5 1783.5 759.7 1785 731.1 1785.5 751.5 1787 749.9 1787.6 735.5 1790.3 750.7 1792 757.9 1792.2 741.3 1794 740.1 1794.4 752.3 1796.4 741.4 1798.4 752.1 1799 738.5 1800.9 746.6 1801 749.9 1803.6 745.9 1804 741.9 1805.8 758 1807 765.9 1808.4 744.6 1810.6 759.2 1811 766.9 1811.6 745.7 1813.1 757.8 1815.1 748.1 1817 757.6 1818 744.1 1819.5 757.5 1820 758.9 1821.8 744.7 1824 741.1 1824.1 755.9 1826.5 746.3 1828 766.9 1829 741.4 1829.6 740.5 1831.2 761 1833 763.9 1833.8 745.3 1835.6 740.1 1835.8 761 1838.5 744 1839 762.9 1841 745 1841 744.1 1843.4 757.7 1845.7 748.4 1846 757.9 1848 745.5 1848.1 755.8 1850.3 748 1852 766.9 1852.8 750.3 1854.9 763.3 1856 749.1 1857.1 765.1 1859 767.9 1859.4 753.8 1862.1 765 1864.5 757.3 1866.7 770 1867 758.1 1869 774.3 1869.4 761.6 1871.8 765.7 1873 757.9 1874.3 769.9 1876.6 744.7 1876.7 760.6 1879 766.9 1879 750.1 1881.5 762.6 1882 749.1 1884 763.5 1886.3 753.3 1887 762.9 1889 755.7 1891 752.1 1891.5 765.9 1893 772.3 1894 759.1 1896.7 767.7 1898 769.9 1898.6 758.6 1900 753.7 1900.8 765.4 1901.6 762.9" fill="none" stroke="#f00" stroke-width="4.17" stroke-linejoin="round" stroke-linecap="round"/></g>
<rect x="275" y="144" width="1705" height="924" fill="none" stroke="#000" stroke-width="2.22" stroke-linejoin="miter"/>
<path d="M353.00 1068v9.72M560.00 1068v9.72M768.00 1068v9.72M975.00 1068v9.72M1182.00 1068v9.72M1389.00 1068v9.72M1597.00 1068v9.72M1804.00 1068v9.72M275 901.00h-9.72M275 709.00h-9.72M275 516.00h-9.72M275 324.00h-9.72" stroke="#000" stroke-width="2.22" fill="none"/>
</svg>
<svg width="2200" height="1200" viewBox="0 0 2200 1200" style="position:absolute;left:0;top:0;will-change:transform">
<g font-family="'DejaVu Sans', 'Liberation Sans', sans-serif" font-size="27.78px" fill="#000">
<text x="353.60" y="1108.5" text-anchor="middle">0</text>
<text x="560.60" y="1108.5" text-anchor="middle">10000</text>
<text x="768.60" y="1108.5" text-anchor="middle">20000</text>
<text x="975.60" y="1108.5" text-anchor="middle">30000</text>
<text x="1182.60" y="1108.5" text-anchor="middle">40000</text>
<text x="1389.60" y="1108.5" text-anchor="middle">50000</text>
<text x="1597.60" y="1108.5" text-anchor="middle">60000</text>
<text x="1804.60" y="1108.5" text-anchor="middle">70000</text>
<text x="255.5" y="912.00" text-anchor="end">0.9</text>
<text x="255.5" y="720.00" text-anchor="end">1.0</text>
<text x="255.5" y="527.00" text-anchor="end">1.1</text>
<text x="255.5" y="335.00" text-anchor="end">1.2</text>
</g>
</svg>
</body></html>
